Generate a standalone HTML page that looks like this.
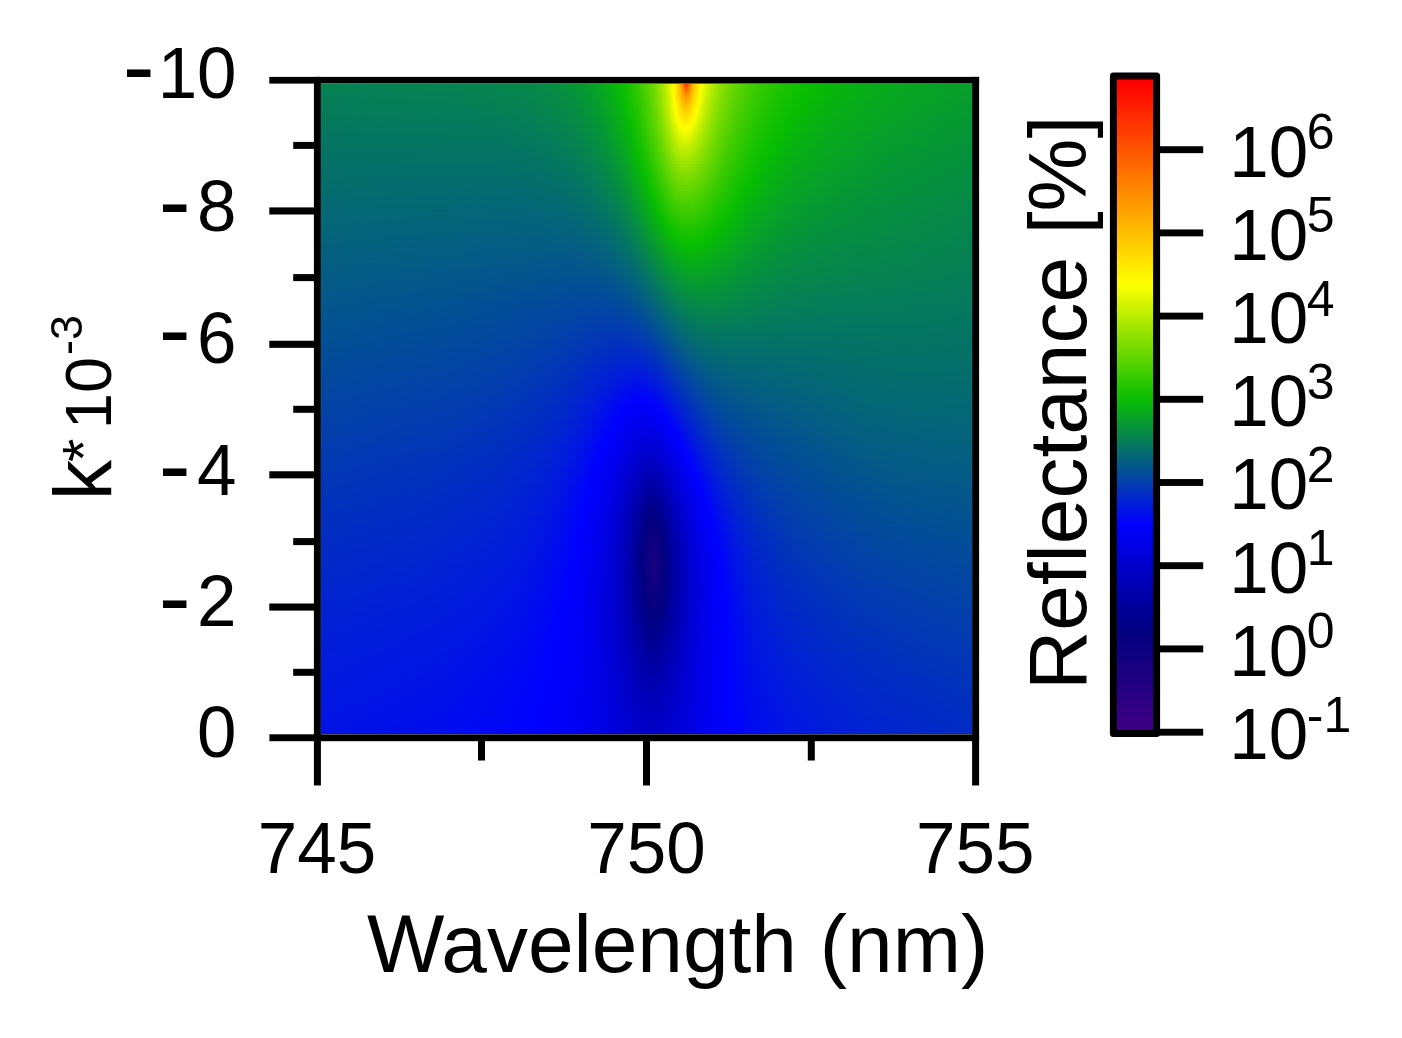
<!DOCTYPE html>
<html><head><meta charset="utf-8"><title>Reflectance map</title>
<style>
html,body{margin:0;padding:0;background:#fff}
body{width:1402px;height:1038px;position:relative;overflow:hidden;font-family:"Liberation Sans",sans-serif}
#hm{position:absolute;left:321px;top:83.5px;width:651px;height:650.5px;overflow:hidden}
#hm div{width:100%}
#cb{position:absolute;left:1113.4px;top:76.1px;width:43.2px;height:657.3px;background:linear-gradient(180deg,#ff0000 0.00%,#ff0500 1.67%,#ff1300 3.33%,#ff2100 5.00%,#ff2f00 6.67%,#ff3c00 8.33%,#ff4a00 10.00%,#ff5800 11.67%,#ff6600 13.33%,#ff7400 15.00%,#ff8200 16.67%,#ff9000 18.33%,#ff9e00 20.00%,#ffab00 21.67%,#ffb900 23.33%,#ffc700 25.00%,#ffd500 26.67%,#ffe300 28.33%,#fff100 30.00%,#ffff00 31.67%,#e8f900 33.33%,#d0f300 35.00%,#b9ed00 36.67%,#a1e600 38.33%,#8ae000 40.00%,#72da00 41.67%,#5bd400 43.33%,#43ce00 45.00%,#2bc700 46.67%,#14c100 48.33%,#08b60b 50.00%,#07a522 51.67%,#069438 53.33%,#06844e 55.00%,#057365 56.67%,#04627b 58.33%,#035291 60.00%,#0341a8 61.67%,#0230be 63.33%,#0120d5 65.00%,#010feb 66.67%,#0000fe 68.33%,#0000f1 70.00%,#0000e3 71.67%,#0000d6 73.33%,#0000c9 75.00%,#0000bc 76.67%,#0000af 78.33%,#0000a2 80.00%,#000095 81.67%,#000088 83.33%,#030080 85.00%,#0a0081 86.67%,#100081 88.33%,#170081 90.00%,#1e0082 91.67%,#250082 93.33%,#2c0083 95.00%,#330083 96.67%,#3a0084 98.33%,#400084 100.00%)}
svg{position:absolute;left:0;top:0}
text{font-family:"Liberation Sans",sans-serif;fill:#000}
</style></head><body>
<div id="hm">
<div style="height:2px;background:linear-gradient(90deg,#058152 0.0%,#058251 21.4%,#06864b 31.0%,#068f3f 36.7%,#069635 39.5%,#07a621 42.9%,#08b60a 45.2%,#08bd02 45.9%,#13c100 46.9%,#22c500 47.8%,#3acb00 49.0%,#5cd400 50.4%,#7ddd00 51.5%,#a1e600 52.4%,#c6f000 53.1%,#e1f700 53.6%,#f6fd00 53.9%,#fffe00 54.1%,#ffe100 54.6%,#ffd200 54.8%,#ffba00 55.1%,#ff9a00 55.5%,#ff9000 55.5%,#ff6c00 55.8%,#ff3f00 56.0%,#ff3400 56.1%,#ff3700 56.2%,#ff6100 56.5%,#ff8700 56.7%,#ffa200 56.9%,#ffb800 57.1%,#ffca00 57.4%,#ffe500 57.8%,#fff900 58.3%,#f2fc00 58.7%,#daf500 59.1%,#c0ee00 59.8%,#a1e600 60.7%,#82de00 61.9%,#70d900 62.8%,#57d300 64.4%,#41cd00 66.2%,#28c600 69.0%,#17c200 71.7%,#0dbf00 73.8%,#08bb04 76.2%,#07ae16 83.3%,#07a127 95.2%,#079e2b 100.0%)"></div>
<div style="height:2px;background:linear-gradient(90deg,#058053 0.0%,#058151 21.4%,#06844e 28.6%,#068848 33.3%,#06923c 38.1%,#079d2c 41.3%,#07ad17 44.1%,#08bc03 45.9%,#12c100 46.9%,#21c500 47.8%,#39cb00 49.0%,#5bd400 50.4%,#7cdd00 51.5%,#a0e600 52.4%,#c5f000 53.1%,#e0f700 53.6%,#fffe00 54.1%,#ffe200 54.6%,#ffc200 55.1%,#ffad00 55.3%,#ff9300 55.5%,#ff5200 56.0%,#ff4c00 56.1%,#ff4f00 56.2%,#ff6200 56.4%,#ff6e00 56.5%,#ff8d00 56.7%,#ffa700 56.9%,#ffc700 57.3%,#ffe300 57.8%,#fffa00 58.3%,#f0fb00 58.7%,#d8f500 59.1%,#beee00 59.8%,#a0e600 60.7%,#88e000 61.6%,#6ed900 62.8%,#56d200 64.4%,#40cd00 66.2%,#27c600 69.0%,#16c200 71.7%,#0dbf00 73.8%,#08bb04 76.2%,#07b111 81.0%,#07a521 90.5%,#079d2c 100.0%)"></div>
<div style="height:2px;background:linear-gradient(90deg,#058054 0.0%,#058152 21.4%,#06854c 31.0%,#068c44 35.7%,#069537 39.5%,#07a127 42.2%,#08b30f 45.0%,#08bb04 45.9%,#11c000 46.9%,#20c400 47.8%,#38cb00 49.0%,#5ad400 50.4%,#7bdc00 51.5%,#9fe600 52.4%,#c4f000 53.1%,#dff700 53.6%,#ffff00 54.1%,#ffe300 54.6%,#ffd400 54.8%,#ffc400 55.1%,#ffa000 55.5%,#ff6a00 55.9%,#ff6300 56.0%,#ff6000 56.1%,#ff6300 56.2%,#ff7100 56.4%,#ff9500 56.7%,#ffac00 56.9%,#ffca00 57.3%,#ffe500 57.8%,#fffc00 58.3%,#e5f800 58.8%,#d6f400 59.1%,#c2ef00 59.6%,#9ee600 60.7%,#7fdd00 61.9%,#62d600 63.4%,#49cf00 65.3%,#36ca00 67.1%,#20c400 69.9%,#0cbf00 73.8%,#08ba05 76.2%,#07ad17 83.3%,#07a028 95.2%,#079d2c 100.0%)"></div>
<div style="height:2px;background:linear-gradient(90deg,#057f54 0.0%,#058152 23.8%,#06854d 31.0%,#068b44 35.7%,#06923b 38.6%,#069833 40.5%,#07a521 43.2%,#08b40d 45.2%,#08ba05 45.9%,#10c000 46.9%,#1fc400 47.8%,#37ca00 49.0%,#59d300 50.4%,#7adc00 51.5%,#9ee500 52.4%,#c3ef00 53.1%,#def600 53.6%,#feff00 54.1%,#fff100 54.4%,#ffd600 54.8%,#ffc000 55.1%,#ff9d00 55.5%,#ff7700 55.9%,#ff7000 56.1%,#ff7300 56.2%,#ff8500 56.5%,#ffb100 56.9%,#ffcd00 57.3%,#ffe700 57.8%,#fffe00 58.3%,#d4f400 59.1%,#b0ea00 60.1%,#94e300 61.0%,#7edd00 61.9%,#6cd800 62.8%,#61d500 63.4%,#53d200 64.4%,#3dcc00 66.2%,#2dc800 68.0%,#1fc400 69.9%,#0bbf00 73.8%,#08ba06 76.2%,#07b013 81.0%,#07a423 90.5%,#079d2d 100.0%)"></div>
<div style="height:2px;background:linear-gradient(90deg,#057f55 0.0%,#058053 21.4%,#058350 28.6%,#06874a 33.3%,#068c43 36.7%,#069834 40.5%,#07a522 43.2%,#08b40e 45.2%,#08ba06 45.9%,#0fc000 46.9%,#1ec400 47.8%,#40cd00 49.5%,#65d700 50.8%,#84df00 51.8%,#9de500 52.4%,#caf100 53.3%,#fcfe00 54.1%,#fffd00 54.1%,#ffdd00 54.8%,#ffc200 55.1%,#ff8e00 55.8%,#ff8000 56.0%,#ff7f00 56.1%,#ff8100 56.2%,#ff9000 56.5%,#ffbc00 57.0%,#ffd500 57.4%,#fff000 57.9%,#feff00 58.3%,#e0f700 58.8%,#b9ed00 59.8%,#9be500 60.7%,#83de00 61.6%,#6ad800 62.8%,#52d200 64.4%,#3ccc00 66.2%,#2cc700 68.0%,#1ec400 69.9%,#0abf00 73.8%,#08b40e 78.6%,#07a620 88.1%,#079e2b 97.6%,#079c2d 100.0%)"></div>
<div style="height:2px;background:linear-gradient(90deg,#057f55 0.0%,#058054 21.4%,#06844e 31.0%,#068a46 35.7%,#06903d 38.6%,#079a30 41.3%,#07aa1b 44.1%,#08b907 45.9%,#0ec000 46.9%,#1dc400 47.8%,#3fcd00 49.5%,#64d600 50.8%,#83de00 51.8%,#a9e800 52.7%,#c9f100 53.3%,#effb00 53.9%,#fffe00 54.1%,#ffda00 54.8%,#ffba00 55.3%,#ff9700 55.8%,#ff8c00 56.0%,#ff8b00 56.1%,#ff8e00 56.2%,#ff9a00 56.5%,#ffc000 57.0%,#ffd800 57.4%,#fff900 58.1%,#fffe00 58.2%,#def600 58.8%,#b7ec00 59.8%,#99e400 60.7%,#82de00 61.6%,#69d800 62.8%,#51d100 64.4%,#3bcb00 66.2%,#2bc700 68.0%,#1dc400 69.9%,#09be00 73.8%,#07af14 81.0%,#07a324 90.5%,#079c2e 100.0%)"></div>
<div style="height:2px;background:linear-gradient(90deg,#057e56 0.0%,#058054 23.8%,#06834f 31.0%,#068947 35.7%,#06903e 38.6%,#069a31 41.3%,#07a91c 44.1%,#08b808 45.9%,#0dbf00 46.9%,#1cc300 47.8%,#34ca00 49.0%,#4cd000 50.0%,#63d600 50.8%,#82de00 51.8%,#9ae500 52.4%,#c7f000 53.3%,#edfa00 53.9%,#feff00 54.1%,#ffe900 54.6%,#ffc900 55.1%,#ffae00 55.5%,#ffa000 55.8%,#ff9700 56.0%,#ff9900 56.2%,#ffa300 56.5%,#ffcf00 57.1%,#ffee00 57.8%,#fffb00 58.1%,#fdfe00 58.2%,#dbf600 58.8%,#bbed00 59.6%,#aae900 60.1%,#8fe200 61.0%,#7adc00 61.9%,#68d700 62.8%,#5dd400 63.4%,#44ce00 65.3%,#31c900 67.1%,#1cc300 69.9%,#08be00 73.8%,#07af15 81.0%,#07a324 90.5%,#079c2e 100.0%)"></div>
<div style="height:2px;background:linear-gradient(90deg,#057e56 0.0%,#057f55 21.4%,#068350 31.0%,#068948 35.7%,#068f3f 38.6%,#069932 41.3%,#07a91d 44.1%,#08b709 45.9%,#0cbf00 46.9%,#1bc300 47.8%,#33c900 49.0%,#4acf00 50.0%,#62d600 50.8%,#81de00 51.8%,#99e400 52.4%,#c6f000 53.3%,#ebfa00 53.9%,#fcfe00 54.1%,#fffe00 54.2%,#ffd600 55.0%,#ffb400 55.5%,#ffa800 55.8%,#ffa100 56.0%,#ffa300 56.2%,#ffac00 56.5%,#ffdf00 57.4%,#fff700 57.9%,#fffd00 58.1%,#f9fe00 58.2%,#d9f500 58.8%,#b8ec00 59.6%,#9ae400 60.5%,#7fdd00 61.6%,#66d700 62.8%,#4fd100 64.4%,#39cb00 66.2%,#29c700 68.0%,#16c200 70.8%,#08be00 73.8%,#08b210 78.6%,#07a522 88.1%,#079b2f 100.0%)"></div>
<div style="height:2px;background:linear-gradient(90deg,#057d57 0.0%,#057f55 23.8%,#058250 31.0%,#068a46 36.7%,#06913c 39.5%,#079d2d 42.2%,#07af15 45.0%,#0bbf00 46.9%,#1ac300 47.8%,#32c900 49.0%,#53d200 50.4%,#75db00 51.5%,#91e200 52.2%,#a5e700 52.7%,#c4f000 53.3%,#e9f900 53.9%,#ffff00 54.2%,#ffd900 55.0%,#ffba00 55.5%,#ffab00 55.9%,#ffaa00 56.1%,#ffb000 56.4%,#ffe200 57.4%,#fff900 57.9%,#ffff00 58.1%,#f1fb00 58.3%,#d6f400 58.8%,#b6ec00 59.6%,#98e400 60.5%,#76db00 61.9%,#65d600 62.8%,#4dd000 64.4%,#2fc800 67.1%,#20c400 69.0%,#10c000 71.7%,#08bd01 73.8%,#08b70a 76.2%,#07aa1b 83.3%,#079c2d 97.6%,#079b2f 100.0%)"></div>
<div style="height:2px;background:linear-gradient(90deg,#057d57 0.0%,#057e56 21.4%,#058251 31.0%,#068947 36.7%,#06913d 39.5%,#079f29 42.9%,#07ae16 45.0%,#09be00 46.9%,#30c900 49.0%,#52d200 50.4%,#73da00 51.5%,#96e300 52.4%,#c2ef00 53.3%,#f1fb00 54.1%,#fcfe00 54.2%,#fffa00 54.4%,#ffcc00 55.3%,#ffc000 55.5%,#ffb700 55.8%,#ffb300 56.1%,#ffb400 56.2%,#ffbb00 56.5%,#fff000 57.6%,#fffc00 57.9%,#fbfe00 58.1%,#d3f300 58.8%,#afea00 59.8%,#96e300 60.5%,#75db00 61.9%,#63d600 62.8%,#4cd000 64.4%,#2ec800 67.1%,#1fc400 69.0%,#0fc000 71.7%,#08bc02 73.8%,#07ad17 81.0%,#07a226 90.5%,#079a30 100.0%)"></div>
<div style="height:2px;background:linear-gradient(90deg,#057d58 0.0%,#057e56 23.8%,#058152 31.0%,#068947 36.7%,#06903e 39.5%,#079b2e 42.2%,#07a620 44.1%,#08b50c 45.9%,#08be00 46.9%,#17c200 47.8%,#2fc800 49.0%,#51d100 50.4%,#72da00 51.5%,#95e300 52.4%,#b8ec00 53.1%,#eefb00 54.1%,#f9fd00 54.2%,#fffc00 54.4%,#ffc600 55.5%,#ffbe00 55.8%,#ffbb00 56.0%,#ffbc00 56.2%,#ffc200 56.5%,#ffdf00 57.1%,#fff900 57.8%,#fffe00 57.9%,#d0f300 58.8%,#ace900 59.8%,#88e000 61.0%,#6ad800 62.4%,#58d300 63.4%,#3fcd00 65.3%,#25c600 68.0%,#0ec000 71.7%,#08bd02 73.6%,#07b112 78.6%,#07a620 85.7%,#079c2e 97.6%,#069a30 100.0%)"></div>
<div style="height:2px;background:linear-gradient(90deg,#057c58 0.0%,#057d57 23.8%,#06834f 33.3%,#068848 36.7%,#068f3f 39.5%,#079e2b 42.9%,#07ac18 45.0%,#08bd01 46.9%,#16c200 47.8%,#38cb00 49.5%,#5dd400 50.8%,#7bdc00 51.8%,#93e300 52.4%,#beee00 53.3%,#e2f700 53.9%,#f6fd00 54.2%,#fffe00 54.4%,#ffcc00 55.5%,#ffc500 55.8%,#ffc200 56.1%,#ffc300 56.2%,#ffd100 56.7%,#fffe00 57.8%,#cdf200 58.8%,#aae900 59.8%,#8ee100 60.7%,#72da00 61.9%,#61d500 62.8%,#4acf00 64.4%,#34ca00 66.2%,#24c500 68.0%,#0dbf00 71.7%,#09be00 72.7%,#08b50c 76.2%,#07ac18 81.0%,#07a127 90.5%,#069a31 100.0%)"></div>
<div style="height:2px;background:linear-gradient(90deg,#057c59 0.0%,#057d58 21.4%,#058053 31.0%,#06864b 35.7%,#068c43 38.6%,#069636 41.3%,#079f2a 43.2%,#07ad16 45.2%,#08bd02 46.9%,#15c100 47.8%,#2dc800 49.0%,#4ed100 50.4%,#6fd900 51.5%,#92e200 52.4%,#bced00 53.3%,#e9f900 54.1%,#fdfe00 54.4%,#fff700 54.6%,#ffd900 55.3%,#ffcb00 55.8%,#ffc900 56.1%,#ffcd00 56.4%,#ffdc00 56.8%,#fffe00 57.8%,#d1f300 58.7%,#ade900 59.6%,#91e200 60.5%,#70d900 61.9%,#5fd500 62.8%,#48cf00 64.4%,#2fc800 66.7%,#23c500 68.0%,#0ec000 71.4%,#08be00 72.7%,#08b50d 76.2%,#07ac19 81.0%,#07a324 88.1%,#079d2d 95.2%,#069931 100.0%)"></div>
<div style="height:2px;background:linear-gradient(90deg,#057c59 0.0%,#057d58 23.8%,#058054 31.0%,#06874a 36.7%,#068e40 39.5%,#069537 41.3%,#079e2b 43.2%,#07ad17 45.2%,#08bc03 46.9%,#14c100 47.8%,#2cc700 49.0%,#43ce00 50.0%,#5ad400 50.8%,#78dc00 51.8%,#9de500 52.7%,#baed00 53.3%,#eafa00 54.1%,#f9fd00 54.4%,#fffc00 54.5%,#ffd900 55.5%,#ffd000 55.9%,#ffd000 56.1%,#ffd500 56.5%,#ffe300 56.9%,#fffc00 57.6%,#fcfe00 57.8%,#e0f700 58.3%,#bbed00 59.1%,#9ce500 60.1%,#78dc00 61.4%,#5ed500 62.8%,#47cf00 64.4%,#2ec800 66.7%,#22c500 68.0%,#0dbf00 71.4%,#08bd01 72.7%,#07af14 78.6%,#07a522 85.7%,#069932 100.0%)"></div>
<div style="height:2px;background:linear-gradient(90deg,#057b5a 0.0%,#057c59 21.4%,#057e56 28.6%,#058151 33.3%,#068848 37.6%,#06913d 40.5%,#079e2c 43.2%,#07aa1b 45.0%,#08bb04 46.9%,#13c100 47.8%,#2ac700 49.0%,#4cd000 50.4%,#6cd800 51.5%,#8ee100 52.4%,#b8ec00 53.3%,#e7f900 54.1%,#ffff00 54.5%,#ffe300 55.3%,#ffd700 55.8%,#ffd700 56.2%,#ffdb00 56.5%,#ffef00 57.1%,#ffff00 57.6%,#dcf600 58.3%,#b8ec00 59.1%,#9ae400 60.1%,#81de00 61.0%,#64d600 62.4%,#52d200 63.4%,#3bcb00 65.3%,#29c700 67.1%,#1ac300 69.0%,#0bbf00 71.7%,#08bd02 72.7%,#08b30e 76.2%,#07ab1a 81.0%,#07a226 88.1%,#069932 100.0%)"></div>
<div style="height:2px;background:linear-gradient(90deg,#057b5a 0.0%,#057c59 23.8%,#057f55 31.0%,#06844e 35.7%,#068d42 39.5%,#069833 42.2%,#07a325 44.1%,#07b111 45.9%,#08ba05 46.9%,#11c000 47.8%,#33c900 49.5%,#57d300 50.8%,#75db00 51.8%,#99e400 52.7%,#c5f000 53.6%,#f1fb00 54.4%,#ffff00 54.6%,#ffe700 55.3%,#ffdd00 55.8%,#ffdb00 56.0%,#ffe000 56.5%,#fff300 57.1%,#fffb00 57.4%,#fafe00 57.6%,#d8f500 58.3%,#c1ef00 58.8%,#a1e600 59.8%,#8be000 60.5%,#71da00 61.6%,#51d100 63.4%,#39cb00 65.3%,#27c600 67.1%,#0ec000 70.8%,#08bc02 72.7%,#08b30f 76.2%,#07aa1b 81.0%,#079f29 90.5%,#069833 100.0%)"></div>
<div style="height:2px;background:linear-gradient(90deg,#057a5b 0.0%,#057b5a 23.8%,#057e56 31.0%,#06834f 35.7%,#068c43 39.5%,#069734 42.2%,#07a226 44.1%,#07b012 45.9%,#08b906 46.9%,#10c000 47.8%,#28c600 49.0%,#49cf00 50.4%,#69d800 51.5%,#97e400 52.7%,#b3eb00 53.3%,#e4f800 54.2%,#fbfe00 54.6%,#fffc00 54.8%,#ffeb00 55.3%,#ffe200 55.8%,#ffe200 56.2%,#ffea00 56.7%,#fffe00 57.4%,#c4f000 58.7%,#9ee600 59.8%,#7ddd00 61.0%,#59d300 62.8%,#43ce00 64.4%,#2ac700 66.7%,#13c100 69.9%,#09be00 71.7%,#08b210 76.2%,#07a620 83.3%,#079b2f 95.2%,#069833 100.0%)"></div>
<div style="height:2px;background:linear-gradient(90deg,#057a5b 0.0%,#057b5a 26.2%,#058054 33.3%,#068849 38.1%,#068f3f 40.5%,#079b2f 43.2%,#07a91c 45.2%,#08b807 46.9%,#0cbf00 47.6%,#26c600 49.0%,#47cf00 50.4%,#67d700 51.5%,#95e300 52.7%,#b1ea00 53.3%,#f1fb00 54.5%,#feff00 54.8%,#ffeb00 55.5%,#ffe600 55.9%,#ffe900 56.4%,#fffb00 57.1%,#ffff00 57.3%,#d4f400 58.2%,#b0ea00 59.1%,#93e300 60.1%,#7bdc00 61.0%,#5dd400 62.5%,#4ed000 63.4%,#2dc800 66.2%,#17c200 69.0%,#08be00 71.7%,#08b809 73.8%,#07ad17 78.6%,#07a127 88.1%,#069734 100.0%)"></div>
<div style="height:2px;background:linear-gradient(90deg,#057a5c 0.0%,#057a5b 23.8%,#057d57 31.0%,#06844e 36.7%,#068e41 40.4%,#069932 42.9%,#07a71f 45.0%,#08b809 46.9%,#0bbf00 47.6%,#2fc800 49.5%,#53d200 50.8%,#70d900 51.8%,#93e300 52.7%,#bdee00 53.6%,#fdfe00 54.8%,#fff800 55.1%,#ffef00 55.5%,#ffeb00 56.0%,#ffef00 56.5%,#fffe00 57.1%,#ebfa00 57.6%,#cdf200 58.3%,#ade900 59.1%,#91e200 60.1%,#79dc00 61.0%,#5bd400 62.5%,#40cd00 64.4%,#28c600 66.7%,#16c200 69.0%,#08be00 71.4%,#08b709 73.8%,#07ad17 78.6%,#07a521 83.3%,#069a30 95.2%,#069734 100.0%)"></div>
<div style="height:2px;background:linear-gradient(90deg,#05795c 0.0%,#057a5b 26.2%,#057f55 33.3%,#06864b 38.1%,#06913d 41.3%,#069a31 43.2%,#07a620 45.0%,#08b70a 46.9%,#0abe00 47.6%,#1dc400 48.7%,#3bcb00 50.0%,#51d100 50.8%,#6ed900 51.8%,#91e200 52.7%,#abe900 53.3%,#f7fd00 54.8%,#feff00 55.0%,#fff400 55.5%,#fff000 56.0%,#fff400 56.5%,#fffe00 57.0%,#f0fb00 57.4%,#baed00 58.7%,#97e400 59.8%,#77db00 61.0%,#5cd400 62.4%,#4bd000 63.4%,#34ca00 65.3%,#1cc300 68.0%,#10c000 69.9%,#08be00 71.4%,#08b60a 73.8%,#07ac18 78.6%,#07a522 83.3%,#069a31 95.2%,#069735 100.0%)"></div>
<div style="height:2px;background:linear-gradient(90deg,#05795d 0.0%,#05795c 23.8%,#057c59 31.0%,#058152 35.7%,#068947 39.5%,#069438 42.2%,#079f2a 44.1%,#07ad17 45.9%,#08be00 47.6%,#2cc800 49.5%,#50d100 50.8%,#62d600 51.5%,#8fe100 52.7%,#b7ec00 53.6%,#fcfe00 55.1%,#ffff00 55.1%,#fff800 55.5%,#fff500 56.1%,#fff800 56.5%,#ffff00 56.8%,#d5f400 57.9%,#b7ec00 58.7%,#99e400 59.6%,#75db00 61.0%,#53d200 62.8%,#33c900 65.3%,#1bc300 68.0%,#0fc000 69.9%,#08bd01 71.4%,#08b60b 73.8%,#07ab19 78.6%,#079f29 88.1%,#069833 97.6%,#069635 100.0%)"></div>
<div style="height:2px;background:linear-gradient(90deg,#05785d 0.0%,#05795d 23.8%,#057d57 33.3%,#06844e 37.6%,#068f3f 41.3%,#069833 43.2%,#07a620 45.2%,#08bd01 47.6%,#21c500 49.0%,#38cb00 50.0%,#4ed000 50.8%,#7bdc00 52.2%,#9fe600 53.1%,#f3fc00 55.0%,#fdff00 55.3%,#fffc00 55.5%,#fffa00 56.1%,#fffd00 56.5%,#fdff00 56.7%,#eefa00 57.1%,#c2ef00 58.3%,#a4e700 59.1%,#8ae000 60.1%,#7adc00 60.7%,#56d300 62.5%,#3ccc00 64.4%,#21c400 67.1%,#13c100 69.0%,#09be00 70.8%,#08b50c 73.8%,#07ab1a 78.6%,#079f2a 88.1%,#069636 100.0%)"></div>
<div style="height:2px;background:linear-gradient(90deg,#05785e 0.0%,#05795d 26.2%,#057d57 33.3%,#06844d 38.1%,#068f40 41.3%,#069734 43.2%,#07a521 45.2%,#08be00 47.8%,#29c700 49.5%,#4cd000 50.8%,#7edd00 52.4%,#a3e700 53.3%,#edfa00 55.0%,#fbfe00 55.5%,#ffff00 55.8%,#ffff00 56.2%,#fcfe00 56.5%,#edfa00 57.0%,#abe900 58.8%,#87df00 60.1%,#71da00 61.0%,#57d300 62.4%,#3bcb00 64.4%,#27c600 66.2%,#12c100 69.0%,#08be00 70.8%,#08b50d 73.8%,#07aa1a 78.6%,#079f2a 88.1%,#069734 97.6%,#069636 100.0%)"></div>
<div style="height:2px;background:linear-gradient(90deg,#05785e 0.0%,#05785e 23.8%,#057a5b 31.0%,#058152 36.7%,#068749 39.5%,#068e41 41.3%,#069735 43.2%,#07a422 45.2%,#08b30f 46.9%,#08bd01 47.8%,#1ec400 49.0%,#35ca00 50.0%,#4bd000 50.8%,#67d700 51.8%,#88e000 52.7%,#adea00 53.6%,#e2f700 54.8%,#f1fb00 55.3%,#f9fd00 55.8%,#f9fe00 56.1%,#f5fc00 56.5%,#e7f900 57.0%,#caf100 57.8%,#9fe600 59.1%,#85df00 60.1%,#6fd900 61.0%,#5dd400 61.9%,#45ce00 63.4%,#2fc800 65.3%,#17c200 68.0%,#08bd01 70.8%,#08b40e 73.8%,#07aa1b 78.6%,#079e2b 88.1%,#069537 100.0%)"></div>
<div style="height:2px;background:linear-gradient(90deg,#05775f 0.0%,#05785e 26.2%,#057c59 33.3%,#06844e 38.6%,#068d42 41.3%,#069636 43.2%,#07a226 45.0%,#08b210 46.9%,#08bc02 47.8%,#16c200 48.7%,#33c900 50.0%,#5bd400 51.5%,#7adc00 52.4%,#aae900 53.6%,#d4f400 54.6%,#e6f800 55.1%,#effb00 55.5%,#f3fc00 56.0%,#eaf900 56.7%,#cef200 57.6%,#a5e700 58.8%,#8ae000 59.8%,#6dd900 61.0%,#51d100 62.5%,#38cb00 64.4%,#1dc400 67.1%,#0bbf00 69.9%,#08ba05 71.4%,#08b30e 73.8%,#07a91c 78.6%,#07a028 85.7%,#069833 95.2%,#069537 100.0%)"></div>
<div style="height:2px;background:linear-gradient(90deg,#05775f 0.0%,#05775f 26.2%,#057b5a 33.3%,#058250 38.1%,#068c43 41.3%,#069537 43.2%,#07a325 45.2%,#07b111 46.9%,#08bb03 47.8%,#15c100 48.7%,#28c700 49.6%,#47cf00 50.8%,#72da00 52.2%,#9ae500 53.3%,#cff200 54.6%,#e0f700 55.1%,#e9f900 55.5%,#ecfa00 56.1%,#e8f900 56.5%,#dcf600 57.0%,#a2e600 58.8%,#80de00 60.1%,#62d600 61.4%,#4bd000 62.8%,#37ca00 64.4%,#1cc300 67.1%,#0abe00 69.9%,#08b907 71.7%,#07ad17 76.2%,#07a225 83.3%,#069834 95.2%,#069538 100.0%)"></div>
<div style="height:2px;background:linear-gradient(90deg,#057760 0.0%,#05775f 26.2%,#05795d 31.0%,#057d57 35.7%,#06854c 39.5%,#068c44 41.3%,#069438 43.2%,#07a226 45.2%,#07b012 46.9%,#08ba05 47.8%,#14c100 48.7%,#27c600 49.6%,#3dcc00 50.5%,#61d500 51.8%,#80de00 52.7%,#caf100 54.6%,#dbf500 55.1%,#e5f800 55.8%,#e3f800 56.4%,#d2f300 57.1%,#9ee600 58.8%,#7edd00 60.1%,#60d500 61.4%,#49cf00 62.8%,#35ca00 64.4%,#23c500 66.2%,#0ec000 69.0%,#09be00 69.9%,#07b210 73.8%,#07a81d 78.6%,#079d2d 88.1%,#069438 100.0%)"></div>
<div style="height:2px;background:linear-gradient(90deg,#057660 0.0%,#057760 26.2%,#057a5b 33.3%,#058250 38.6%,#068b45 41.3%,#069339 43.2%,#07a127 45.2%,#07af14 46.9%,#08b906 47.8%,#12c100 48.7%,#2ec800 50.0%,#55d200 51.5%,#7edd00 52.7%,#c5f000 54.6%,#d5f400 55.1%,#dcf600 55.5%,#dff700 56.1%,#d7f500 56.7%,#cdf200 57.1%,#86df00 59.6%,#5ed500 61.4%,#48cf00 62.8%,#34ca00 64.4%,#1dc400 66.7%,#0cbf00 69.0%,#08be00 69.9%,#08b50d 72.7%,#07ac18 76.2%,#07a127 83.3%,#069537 97.6%,#069439 100.0%)"></div>
<div style="height:2px;background:linear-gradient(90deg,#057661 0.0%,#057661 26.2%,#057a5c 33.3%,#057e56 36.7%,#06844e 39.5%,#068a46 41.3%,#069833 44.1%,#07a621 45.9%,#07ae15 46.9%,#08b807 47.8%,#11c000 48.7%,#24c500 49.6%,#42cd00 50.8%,#5dd400 51.8%,#7bdc00 52.7%,#beee00 54.5%,#cef200 55.1%,#d6f400 55.5%,#d9f500 56.1%,#cff200 56.8%,#b5eb00 57.8%,#90e200 59.1%,#79dc00 60.1%,#5cd400 61.4%,#46ce00 62.8%,#32c900 64.4%,#18c200 67.1%,#0bbf00 69.0%,#08bd01 69.9%,#08b40e 72.7%,#07ab19 76.2%,#07a423 81.0%,#079c2e 88.1%,#069439 100.0%)"></div>
<div style="height:2px;background:linear-gradient(90deg,#057562 0.0%,#057661 26.2%,#05795d 33.3%,#058152 38.6%,#068947 41.3%,#069734 44.1%,#07a522 45.9%,#07ad16 46.9%,#08b709 47.8%,#0fc000 48.7%,#34ca00 50.4%,#51d100 51.5%,#79dc00 52.7%,#b4eb00 54.4%,#c2ef00 54.8%,#cdf200 55.3%,#d3f300 56.0%,#d0f300 56.5%,#c3ef00 57.1%,#7ddd00 59.8%,#5ad400 61.4%,#44ce00 62.8%,#27c600 65.3%,#17c200 67.1%,#0abf00 69.0%,#08bc02 69.9%,#08b60b 71.7%,#07ab1a 76.2%,#07a028 83.3%,#069538 97.6%,#069339 100.0%)"></div>
<div style="height:2px;background:linear-gradient(90deg,#057562 0.0%,#057562 26.2%,#057760 31.0%,#057b5a 35.7%,#058350 39.5%,#068948 41.3%,#06913c 43.2%,#079e2b 45.2%,#07ac18 46.9%,#08b60a 47.8%,#0ebf00 48.7%,#29c700 50.0%,#4fd100 51.5%,#8be100 53.3%,#b5eb00 54.5%,#c5f000 55.1%,#cbf100 55.5%,#cdf200 56.1%,#c7f000 56.7%,#b8ec00 57.4%,#7bdc00 59.8%,#61d500 61.0%,#47cf00 62.5%,#2fc800 64.4%,#16c200 67.1%,#09be00 69.0%,#07b013 73.6%,#07a620 78.6%,#079d2c 85.7%,#069636 95.2%,#06933a 100.0%)"></div>
<div style="height:2px;background:linear-gradient(90deg,#057563 0.0%,#057562 28.6%,#057a5b 35.7%,#058251 39.5%,#068c44 42.2%,#069536 44.1%,#079d2c 45.2%,#07ab19 46.9%,#08b50c 47.8%,#0cbf00 48.7%,#1fc400 49.6%,#3ccc00 50.8%,#69d800 52.4%,#ace900 54.4%,#beee00 55.1%,#c7f000 55.8%,#c5f000 56.4%,#b9ec00 57.1%,#78dc00 59.8%,#54d200 61.6%,#41cd00 62.8%,#2ec800 64.4%,#18c200 66.7%,#08be00 69.0%,#07b210 72.7%,#07a621 78.6%,#079d2c 85.7%,#069439 97.6%,#06923a 100.0%)"></div>
<div style="height:2px;background:linear-gradient(90deg,#057463 0.0%,#057463 26.2%,#05775f 33.3%,#057f55 38.6%,#06874a 41.3%,#068f3f 43.2%,#079d2d 45.2%,#07ab1a 46.9%,#0abf00 48.7%,#2fc800 50.4%,#4bd000 51.5%,#85df00 53.3%,#ace900 54.5%,#bdee00 55.3%,#c2ef00 55.9%,#bfee00 56.5%,#b4eb00 57.1%,#6fd900 60.1%,#5dd400 61.0%,#3fcd00 62.8%,#2dc800 64.4%,#1bc300 66.2%,#0dbf00 68.0%,#08bd01 69.0%,#07b111 72.7%,#07a91c 76.2%,#079f2a 83.3%,#069735 92.9%,#06923b 100.0%)"></div>
<div style="height:2px;background:linear-gradient(90deg,#057464 0.0%,#057463 28.6%,#057760 33.3%,#057e56 38.6%,#06864b 41.3%,#069439 44.1%,#07a127 45.9%,#07b211 47.6%,#09be00 48.7%,#24c500 50.0%,#38cb00 50.8%,#6ed900 52.7%,#9fe600 54.2%,#b4eb00 55.1%,#bced00 55.8%,#baed00 56.5%,#afea00 57.1%,#78db00 59.5%,#60d500 60.7%,#42cd00 62.5%,#2bc700 64.4%,#13c100 67.1%,#0cbf00 68.0%,#08bd02 69.0%,#07b112 72.7%,#07a91d 76.2%,#07a127 81.0%,#069636 92.9%,#06923b 100.0%)"></div>
<div style="height:3px;background:linear-gradient(90deg,#057364 0.0%,#057464 28.6%,#057661 33.3%,#057d57 38.6%,#06854c 41.3%,#068d41 43.2%,#079a30 45.2%,#07a81d 46.9%,#08bd01 48.7%,#20c400 49.9%,#42cd00 51.3%,#61d500 52.4%,#9ee500 54.4%,#afea00 55.1%,#b4eb00 55.5%,#b4eb00 56.4%,#ace900 57.0%,#96e300 58.1%,#69d800 60.1%,#50d100 61.4%,#34ca00 63.4%,#20c400 65.3%,#11c000 67.1%,#0bbf00 68.0%,#08bc03 69.0%,#07b013 72.7%,#07a81e 76.2%,#079b2e 85.7%,#069438 95.2%,#06913c 100.0%)"></div>
<div style="height:3px;background:linear-gradient(90deg,#057365 0.0%,#057365 28.6%,#057562 33.3%,#057b5b 37.6%,#058151 40.5%,#068849 42.2%,#069734 45.0%,#07a71f 46.9%,#07b012 47.8%,#08bc03 48.7%,#0abf00 49.0%,#2bc700 50.5%,#4bd000 51.8%,#98e400 54.4%,#a5e700 55.0%,#ace900 55.5%,#aeea00 56.1%,#a9e800 56.7%,#9ae400 57.6%,#6cd800 59.8%,#4dd000 61.4%,#31c900 63.4%,#16c200 66.2%,#09be00 68.0%,#07b111 71.7%,#07a71f 76.2%,#079b2f 85.7%,#069339 95.2%,#06913d 100.0%)"></div>
<div style="height:3px;background:linear-gradient(90deg,#057266 0.0%,#057266 28.6%,#057463 33.3%,#057a5b 38.1%,#06834f 41.3%,#068b44 43.2%,#069636 45.0%,#07a521 46.9%,#07af14 47.8%,#08be00 49.0%,#25c600 50.4%,#59d300 52.4%,#92e200 54.4%,#a0e600 55.1%,#a5e700 55.5%,#a5e700 56.4%,#98e400 57.4%,#7edd00 58.7%,#59d300 60.5%,#36ca00 62.8%,#1cc300 65.3%,#0dbf00 67.1%,#08bd01 68.0%,#07b111 71.4%,#07ab19 73.8%,#07a225 78.6%,#069833 88.1%,#06903d 100.0%)"></div>
<div style="height:3px;background:linear-gradient(90deg,#057267 0.0%,#057167 28.6%,#057661 35.7%,#057c58 39.5%,#06854c 42.2%,#069538 45.0%,#07ad17 47.8%,#08bc03 49.0%,#11c000 49.6%,#3ccc00 51.5%,#88e000 54.2%,#97e400 55.0%,#9fe600 55.8%,#9de500 56.5%,#8ee100 57.6%,#53d200 60.7%,#38cb00 62.5%,#23c500 64.4%,#0fc000 66.7%,#08bc02 68.0%,#07af14 71.7%,#07a521 76.2%,#069931 85.7%,#06923b 95.2%,#06903e 100.0%)"></div>
<div style="height:3px;background:linear-gradient(90deg,#057167 0.0%,#057069 23.8%,#057167 31.0%,#05785f 37.6%,#057e56 40.5%,#068848 43.2%,#069a30 45.9%,#07ab19 47.8%,#08ba05 49.0%,#0bbf00 49.5%,#35ca00 51.3%,#7bdc00 53.9%,#8de100 54.8%,#96e300 55.5%,#98e400 56.1%,#92e200 56.9%,#84df00 57.8%,#5ad400 60.1%,#37ca00 62.4%,#20c400 64.4%,#0dbf00 66.7%,#0abe00 67.1%,#08b709 69.0%,#07ac18 72.7%,#07a422 76.2%,#069932 85.7%,#068f3f 100.0%)"></div>
<div style="height:3px;background:linear-gradient(90deg,#057068 0.0%,#056f6a 23.8%,#057266 33.3%,#05785e 38.6%,#058054 41.3%,#06874a 43.2%,#069339 45.2%,#07a028 46.9%,#08b808 49.0%,#09be00 49.5%,#27c600 50.8%,#49cf00 52.2%,#79dc00 54.1%,#8ae000 55.0%,#91e200 55.8%,#90e200 56.4%,#86df00 57.4%,#48cf00 61.0%,#32c900 62.5%,#1ec400 64.4%,#0bbf00 66.7%,#08be00 67.1%,#08b30f 69.9%,#07a81d 73.8%,#079d2c 81.0%,#069438 90.5%,#068f3f 100.0%)"></div>
<div style="height:3px;background:linear-gradient(90deg,#057069 0.0%,#056f6a 26.2%,#057167 33.3%,#057463 36.7%,#057c59 40.5%,#06844d 42.9%,#06903d 45.0%,#079f2a 46.9%,#07a81d 47.8%,#08b60a 49.0%,#09be00 49.6%,#2ec800 51.3%,#70d900 53.9%,#7edd00 54.6%,#87df00 55.3%,#8ae000 56.1%,#86df00 56.8%,#78db00 57.9%,#49cf00 60.7%,#25c600 63.4%,#09be00 66.7%,#07b210 69.9%,#07a71f 73.8%,#079f2a 78.6%,#069439 90.5%,#068e40 100.0%)"></div>
<div style="height:3px;background:linear-gradient(90deg,#056f6a 0.0%,#056f6a 31.0%,#057266 35.7%,#05785e 39.5%,#06834f 42.9%,#068f3f 45.0%,#079d2c 46.9%,#07b112 48.7%,#08bd02 49.6%,#0ec000 50.0%,#36ca00 51.8%,#6ed900 54.1%,#7bdc00 54.8%,#82de00 55.5%,#84df00 56.1%,#7ddd00 57.1%,#6cd800 58.3%,#41cd00 61.0%,#2ac700 62.8%,#1ac300 64.4%,#0abf00 66.2%,#08bb04 67.1%,#07b112 69.9%,#07a620 73.8%,#079e2b 78.6%,#069537 88.1%,#068e41 100.0%)"></div>
<div style="height:3px;background:linear-gradient(90deg,#056f6a 0.0%,#056d6c 26.2%,#056f6a 33.3%,#057562 38.6%,#057c59 41.3%,#068849 44.1%,#069438 45.9%,#07a522 47.8%,#09be00 49.9%,#32c900 51.8%,#5ed500 53.6%,#71da00 54.5%,#7adc00 55.3%,#7ddd00 56.0%,#79dc00 56.9%,#67d700 58.3%,#3ecc00 61.0%,#27c600 62.8%,#17c200 64.4%,#09be00 66.2%,#08b210 69.0%,#07a81e 72.7%,#079d2c 78.6%,#069438 88.1%,#068d42 100.0%)"></div>
<div style="height:3px;background:linear-gradient(90deg,#056e6b 0.0%,#056d6d 28.6%,#056e6b 33.3%,#057463 38.6%,#057b5a 41.3%,#058251 43.2%,#068d41 45.2%,#07a127 47.6%,#08b70a 49.5%,#08be00 50.0%,#27c600 51.5%,#59d300 53.6%,#6bd800 54.5%,#74da00 55.3%,#77db00 56.0%,#73da00 56.9%,#68d700 57.9%,#3bcb00 61.0%,#24c500 62.8%,#0dbf00 65.3%,#08bd01 66.2%,#07ae15 69.9%,#07a422 73.8%,#079d2d 78.6%,#069439 88.1%,#068d42 100.0%)"></div>
<div style="height:3px;background:linear-gradient(90deg,#056e6c 0.0%,#056c6e 28.6%,#056f6a 35.7%,#057562 39.5%,#057d58 42.2%,#068a45 45.0%,#069833 46.9%,#07ab19 48.7%,#08bc03 50.0%,#10c000 50.5%,#40cd00 52.7%,#5bd400 53.9%,#6bd800 55.0%,#71da00 55.9%,#6ed900 56.8%,#61d500 58.1%,#38cb00 61.0%,#1bc300 63.4%,#0bbf00 65.3%,#08b906 66.7%,#07ad17 69.9%,#07a324 73.8%,#079c2e 78.6%,#06933a 88.1%,#068c43 100.0%)"></div>
<div style="height:3px;background:linear-gradient(90deg,#056d6d 0.0%,#056b6f 28.6%,#056f6a 36.7%,#057661 40.5%,#057f54 43.2%,#068f3f 45.9%,#079f29 47.8%,#08b50d 49.6%,#09be00 50.4%,#4fd100 53.6%,#61d500 54.6%,#69d800 55.5%,#6bd800 56.2%,#66d700 57.1%,#59d300 58.3%,#34ca00 61.0%,#19c200 63.4%,#09be00 65.3%,#07af14 69.0%,#07a522 72.7%,#079b2f 78.6%,#068f3f 92.9%,#068c44 100.0%)"></div>
<div style="height:3px;background:linear-gradient(90deg,#056c6e 0.0%,#046b70 28.6%,#056e6b 36.7%,#057562 40.5%,#057e56 43.2%,#068947 45.2%,#069537 46.9%,#079d2c 47.8%,#07b112 49.5%,#09be00 50.5%,#4bd000 53.6%,#5ed500 54.8%,#64d600 55.5%,#64d600 56.5%,#62d600 57.0%,#54d200 58.3%,#26c600 61.9%,#0ec000 64.4%,#08bd01 65.3%,#07ae16 69.0%,#07a226 73.6%,#069a30 78.6%,#06923b 88.1%,#068b44 100.0%)"></div>
<div style="height:3px;background:linear-gradient(90deg,#056c6e 0.0%,#046a71 31.0%,#056d6c 36.7%,#057464 40.5%,#057d58 43.2%,#068749 45.2%,#069339 46.9%,#07a521 48.7%,#08bd02 50.5%,#0cbf00 50.8%,#46ce00 53.6%,#56d200 54.6%,#5ed500 55.5%,#5ed500 56.7%,#54d200 57.9%,#1ec400 62.4%,#0cbf00 64.4%,#08bc03 65.3%,#07b013 68.0%,#07a522 71.7%,#079d2d 76.2%,#069734 81.0%,#06903e 90.5%,#068b45 100.0%)"></div>
<div style="height:3px;background:linear-gradient(90deg,#056b6f 0.0%,#046972 31.0%,#056c6d 36.7%,#057365 40.5%,#057b5a 43.2%,#068a45 45.9%,#069a31 47.8%,#07ae15 49.6%,#09be00 50.8%,#41cd00 53.6%,#50d100 54.6%,#58d300 55.5%,#5ad300 56.2%,#55d200 57.3%,#41cd00 59.1%,#20c400 61.9%,#0abf00 64.3%,#07b210 67.1%,#07a620 70.8%,#07a029 73.8%,#069635 81.0%,#068f3f 90.5%,#068a46 100.0%)"></div>
<div style="height:3px;background:linear-gradient(90deg,#046b70 0.0%,#046873 28.6%,#046b70 35.7%,#056f6a 39.5%,#05795d 42.9%,#06834f 45.0%,#06903e 46.9%,#07a522 49.0%,#08b808 50.5%,#08bc02 50.8%,#18c200 51.8%,#3ccc00 53.6%,#4bd000 54.6%,#53d200 55.5%,#53d200 56.7%,#4cd000 57.8%,#21c500 61.6%,#0fc000 63.4%,#08be01 64.4%,#07b112 67.1%,#07a81e 69.9%,#079f2a 73.8%,#069536 81.0%,#068d42 92.9%,#068a46 100.0%)"></div>
<div style="height:3px;background:linear-gradient(90deg,#046a71 0.0%,#046874 31.0%,#046a71 35.7%,#056e6b 39.5%,#057562 42.2%,#057d58 44.1%,#06874a 45.9%,#069636 47.8%,#07aa1b 49.6%,#08ba06 50.8%,#0bbf00 51.3%,#37ca00 53.6%,#46ce00 54.6%,#4dd000 55.5%,#4fd100 56.2%,#4bd000 57.1%,#42cd00 58.3%,#16c200 62.4%,#08bc02 64.3%,#07af14 67.1%,#07a423 70.8%,#079e2b 73.8%,#069537 81.0%,#068b44 95.2%,#068947 100.0%)"></div>
<div style="height:3px;background:linear-gradient(90deg,#046971 0.0%,#046775 31.0%,#056b6f 38.1%,#056f6a 40.5%,#057661 42.9%,#058152 45.2%,#068c43 46.9%,#07a127 49.0%,#07b111 50.4%,#08bd01 51.3%,#2dc800 53.3%,#3ecc00 54.4%,#46ce00 55.3%,#49cf00 56.0%,#47cf00 57.0%,#40cd00 58.1%,#12c100 62.5%,#0abf00 63.4%,#07b211 66.2%,#07a521 69.9%,#079d2d 73.8%,#069438 81.0%,#068b45 95.2%,#068948 100.0%)"></div>
<div style="height:3px;background:linear-gradient(90deg,#046972 0.0%,#046676 31.0%,#046973 36.7%,#056c6e 39.5%,#057069 41.3%,#057661 43.2%,#058054 45.2%,#068b45 46.9%,#06923b 47.8%,#07aa1b 50.0%,#08bd01 51.5%,#15c100 52.2%,#2ec800 53.6%,#3ecc00 54.8%,#44ce00 56.1%,#41cd00 57.3%,#31c900 59.1%,#0fc000 62.5%,#08be00 63.4%,#08b40d 65.3%,#07aa1c 68.0%,#07a028 71.4%,#069833 76.2%,#06903e 85.7%,#068848 100.0%)"></div>
<div style="height:3px;background:linear-gradient(90deg,#046873 0.0%,#046577 31.0%,#046873 37.6%,#056f6b 41.3%,#05785e 44.1%,#058250 45.9%,#06903d 47.8%,#07a81e 50.0%,#09be00 51.8%,#29c700 53.6%,#38cb00 54.8%,#3fcc00 56.0%,#3ccc00 57.3%,#30c900 58.8%,#0ec000 62.4%,#0abf00 62.8%,#08b709 64.4%,#07ab19 67.1%,#079f2a 71.7%,#069734 76.2%,#068f3f 85.7%,#068849 100.0%)"></div>
<div style="height:3px;background:linear-gradient(90deg,#046874 0.0%,#046578 31.0%,#046873 38.6%,#056d6c 41.3%,#057760 44.1%,#057c58 45.2%,#06874a 46.9%,#079a30 49.0%,#08b60b 51.3%,#08bc03 51.8%,#10c000 52.4%,#29c700 53.9%,#35ca00 55.0%,#3acb00 56.2%,#37ca00 57.4%,#29c700 59.1%,#0abf00 62.5%,#08be01 62.8%,#07b111 65.3%,#07a71f 68.0%,#079c2e 72.7%,#069438 78.6%,#068d42 88.1%,#06874a 100.0%)"></div>
<div style="height:3px;background:linear-gradient(90deg,#046775 0.0%,#046479 33.3%,#046775 38.1%,#056c6e 41.3%,#057562 44.1%,#057f55 45.9%,#068d42 47.8%,#079f2a 49.6%,#09be00 52.2%,#20c400 53.6%,#2ec800 54.8%,#34ca00 55.8%,#34c900 57.0%,#29c700 58.7%,#09be00 62.4%,#07b013 65.3%,#07a621 68.0%,#079b2f 72.7%,#06933a 78.6%,#068a46 92.9%,#06874a 100.0%)"></div>
<div style="height:3px;background:linear-gradient(90deg,#046775 0.0%,#04637a 33.3%,#046676 38.6%,#046b70 41.3%,#057464 44.1%,#057d57 45.9%,#068b45 47.8%,#079d2d 49.6%,#08be00 52.4%,#1bc300 53.6%,#29c700 54.8%,#2fc800 55.8%,#2fc800 57.0%,#28c600 58.3%,#0abe00 61.9%,#08ba05 62.8%,#07ae15 65.3%,#07a226 69.0%,#069833 73.6%,#06923b 78.6%,#06874a 97.6%,#06864b 100.0%)"></div>
<div style="height:3px;background:linear-gradient(90deg,#046676 0.0%,#04627b 33.3%,#046676 39.5%,#056e6c 42.9%,#05785f 45.2%,#057b59 45.9%,#068947 47.8%,#079e2b 49.9%,#09be00 52.7%,#1fc400 54.2%,#29c700 55.5%,#2bc700 56.5%,#27c600 57.8%,#11c000 60.7%,#09be00 61.6%,#07b112 64.4%,#07a324 68.0%,#069932 72.7%,#06923c 78.6%,#068947 92.9%,#06864c 100.0%)"></div>
<div style="height:3px;background:linear-gradient(90deg,#046577 0.0%,#04617c 31.0%,#04637a 37.6%,#046873 41.3%,#057168 44.1%,#057a5c 45.9%,#06874a 47.8%,#079c2d 50.0%,#08bb03 52.7%,#0ec000 53.3%,#1ec400 54.6%,#24c500 55.5%,#26c600 56.5%,#24c500 57.6%,#0ebf00 60.7%,#08bd02 61.6%,#07af14 64.4%,#07a226 68.0%,#069931 71.7%,#06933a 76.2%,#068947 90.5%,#06854c 100.0%)"></div>
<div style="height:3px;background:linear-gradient(90deg,#046578 0.0%,#04617d 33.3%,#04637a 38.6%,#046972 42.2%,#056f6a 44.1%,#05785e 45.9%,#06854d 47.8%,#079e2b 50.4%,#08bd01 53.1%,#17c200 54.4%,#20c400 55.5%,#22c500 56.7%,#1cc300 58.3%,#08be00 61.0%,#07ad16 64.4%,#07a324 67.1%,#069932 71.4%,#06923b 76.2%,#068947 90.5%,#06854d 100.0%)"></div>
<div style="height:3px;background:linear-gradient(90deg,#046478 0.0%,#04607e 31.0%,#04617d 36.7%,#046478 40.5%,#046a71 42.9%,#057365 45.2%,#057c59 46.9%,#06923b 49.5%,#08bc03 53.3%,#09be00 53.6%,#14c100 54.5%,#1cc300 55.8%,#1cc300 57.4%,#14c100 58.8%,#08bd01 60.7%,#07a81d 65.3%,#079f29 68.0%,#069734 71.7%,#068f3f 78.6%,#06864b 95.2%,#06844d 100.0%)"></div>
<div style="height:3px;background:linear-gradient(90deg,#046479 0.0%,#045f80 33.3%,#04627c 39.5%,#046972 43.2%,#057563 45.9%,#058152 47.8%,#069537 50.0%,#08b907 53.3%,#09be00 53.9%,#16c200 55.5%,#19c200 56.7%,#14c100 58.3%,#08be00 60.1%,#07aa1b 64.4%,#079e2b 68.0%,#069635 71.7%,#068e40 78.6%,#06854d 97.6%,#06844e 100.0%)"></div>
<div style="height:3px;background:linear-gradient(90deg,#04637a 0.0%,#045f7f 23.8%,#045e81 33.3%,#04607e 38.6%,#04637a 41.3%,#046b70 44.1%,#057365 45.9%,#057f55 47.8%,#06923b 49.9%,#08b60b 53.3%,#08be00 54.2%,#11c000 55.5%,#14c100 56.7%,#10c000 58.3%,#08bd01 59.8%,#07a91d 64.4%,#079d2c 68.0%,#069439 72.7%,#068c43 81.0%,#06834f 100.0%)"></div>
<div style="height:3px;background:linear-gradient(90deg,#04637b 0.0%,#045f80 23.8%,#045d82 33.3%,#045f80 38.6%,#046577 42.9%,#056e6c 45.2%,#057660 46.9%,#06874a 49.0%,#079e2b 51.3%,#08b60b 53.6%,#09be00 54.8%,#0fc000 56.1%,#0fc000 57.4%,#08be01 59.1%,#07a71f 64.4%,#079c2e 68.0%,#069438 71.7%,#068f3f 76.2%,#068849 88.1%,#06834f 100.0%)"></div>
<div style="height:3px;background:linear-gradient(90deg,#04627b 0.0%,#045c83 33.3%,#045e81 38.6%,#04627b 42.2%,#056c6e 45.2%,#057563 46.9%,#06854d 49.0%,#07a521 52.2%,#08b50c 53.9%,#08bd02 55.1%,#0abf00 55.9%,#0abe00 57.8%,#08bd02 58.7%,#07a521 64.4%,#069a30 68.0%,#06913d 73.6%,#068b45 81.0%,#058250 100.0%)"></div>
<div style="height:3px;background:linear-gradient(90deg,#04617c 0.0%,#045e81 21.4%,#045c84 36.7%,#045f7f 41.3%,#046676 44.1%,#056e6c 45.9%,#05795d 47.8%,#068848 49.6%,#07b210 53.9%,#08bb04 55.5%,#08bd01 56.9%,#08ba05 58.7%,#07a423 64.4%,#069932 68.0%,#06903e 73.6%,#068a46 81.0%,#058251 100.0%)"></div>
<div style="height:3px;background:linear-gradient(90deg,#04617d 0.0%,#045c84 28.6%,#045c84 38.6%,#045e81 41.3%,#046478 44.1%,#046973 45.2%,#057760 47.8%,#06864b 49.6%,#07af14 53.9%,#08b808 55.5%,#08ba05 56.9%,#08b907 58.2%,#07ad17 61.4%,#079c2d 66.2%,#069438 69.9%,#068f40 73.8%,#068947 81.0%,#058151 100.0%)"></div>
<div style="height:3px;background:linear-gradient(90deg,#04607e 0.0%,#045c84 23.8%,#045a86 36.7%,#045c84 40.5%,#04607e 43.2%,#046a71 45.9%,#057562 47.8%,#06864b 49.9%,#07a71f 53.3%,#07b112 54.6%,#08b60b 55.8%,#08b709 57.3%,#08b40d 58.8%,#07a128 64.4%,#069735 68.0%,#068f3f 72.7%,#068848 81.0%,#058152 100.0%)"></div>
<div style="height:3px;background:linear-gradient(90deg,#04607f 0.0%,#045d83 19.0%,#045988 35.7%,#045a86 39.5%,#045f80 43.2%,#046873 45.9%,#057365 47.8%,#058152 49.6%,#07a423 53.3%,#07af14 54.8%,#08b40d 56.5%,#08b30e 58.2%,#07ab1a 61.0%,#079c2d 65.3%,#069339 69.0%,#068d42 73.8%,#068947 78.6%,#058053 100.0%)"></div>
<div style="height:3px;background:linear-gradient(90deg,#045f7f 0.0%,#045987 28.6%,#045889 38.1%,#045a86 41.3%,#04607f 44.1%,#046676 45.9%,#057168 47.8%,#058151 49.9%,#07a127 53.3%,#07ab19 54.8%,#07b012 56.0%,#07b211 57.4%,#07af14 58.8%,#07a71f 61.4%,#069833 66.2%,#068e40 71.4%,#068a46 76.2%,#06854c 85.7%,#058053 100.0%)"></div>
<div style="height:3px;background:linear-gradient(90deg,#045f80 0.0%,#045988 28.6%,#04578a 38.6%,#045a86 42.2%,#04627c 45.2%,#056e6c 47.6%,#057c58 49.6%,#07a128 53.6%,#07a81d 54.8%,#07ad16 56.0%,#07af14 57.4%,#07aa1a 59.8%,#079c2e 64.4%,#06933a 68.0%,#068b45 73.6%,#06854c 83.3%,#058054 100.0%)"></div>
<div style="height:3px;background:linear-gradient(90deg,#045e81 0.0%,#045988 26.2%,#04568c 37.6%,#045988 42.2%,#04607e 45.2%,#056b6f 47.6%,#057d57 50.0%,#079e2b 53.6%,#07a71f 55.1%,#07ab19 56.5%,#07ab19 58.3%,#07a620 60.5%,#069a30 64.4%,#06903e 69.0%,#068a46 73.8%,#06864c 81.0%,#057f54 100.0%)"></div>
<div style="height:3px;background:linear-gradient(90deg,#045d82 0.0%,#045a86 19.0%,#04558d 38.6%,#045889 42.2%,#045b85 44.1%,#04617d 45.9%,#046a70 47.8%,#057b5a 50.0%,#079d2c 53.9%,#07a71f 55.8%,#07a91c 57.3%,#07a81e 58.8%,#07a127 61.6%,#069635 65.3%,#06903d 68.0%,#068a46 72.7%,#06854d 81.0%,#057f55 100.0%)"></div>
<div style="height:3px;background:linear-gradient(90deg,#045d82 0.0%,#04578a 26.2%,#04548e 39.5%,#04578a 42.9%,#045d83 45.2%,#046873 47.8%,#05785e 49.9%,#069a30 53.9%,#07a423 55.8%,#07a620 57.1%,#07a620 58.3%,#07a127 60.7%,#06913d 67.1%,#068a46 71.7%,#06854c 78.6%,#057e56 100.0%)"></div>
<div style="height:3px;background:linear-gradient(90deg,#045c83 0.0%,#04578a 23.8%,#035390 38.6%,#04558d 42.2%,#045b85 45.2%,#046676 47.8%,#057661 50.0%,#069734 53.9%,#079e2a 55.1%,#07a325 56.5%,#07a423 57.8%,#07a127 60.1%,#06903d 66.7%,#068947 71.4%,#06834f 81.0%,#057e56 100.0%)"></div>
<div style="height:3px;background:linear-gradient(90deg,#045c84 0.0%,#04578b 23.8%,#035291 38.6%,#04538f 42.2%,#045987 45.2%,#046479 47.8%,#057364 50.0%,#06923b 53.6%,#079c2d 55.3%,#07a028 56.5%,#07a028 59.1%,#068f3f 66.7%,#06874a 72.7%,#068350 81.0%,#057d57 100.0%)"></div>
<div style="height:3px;background:linear-gradient(90deg,#045b85 0.0%,#04578a 19.0%,#035192 38.6%,#035291 42.2%,#04578a 45.2%,#04627c 47.8%,#057068 49.9%,#068f3f 53.6%,#069a30 55.5%,#079e2b 57.0%,#079e2b 59.1%,#068d42 67.1%,#06864b 72.7%,#058251 81.0%,#057d58 100.0%)"></div>
<div style="height:3px;background:linear-gradient(90deg,#045b85 0.0%,#04548e 26.2%,#035094 40.5%,#035291 43.2%,#04568c 45.2%,#045f80 47.6%,#056c6f 49.6%,#068c43 53.6%,#069537 55.0%,#079b2f 56.7%,#079c2d 58.3%,#069833 61.0%,#068a46 68.0%,#06844e 73.8%,#057d57 95.2%,#057c58 100.0%)"></div>
<div style="height:3px;background:linear-gradient(90deg,#045a86 0.0%,#04558c 21.4%,#034f96 39.5%,#035093 43.2%,#04538f 45.0%,#045987 46.9%,#046578 49.0%,#057365 50.8%,#068947 53.6%,#06923b 55.0%,#069734 56.2%,#069a31 57.9%,#069833 60.1%,#068a46 67.1%,#06834f 73.8%,#058054 85.7%,#057c59 100.0%)"></div>
<div style="height:3px;background:linear-gradient(90deg,#045987 0.0%,#04548e 23.8%,#034d97 39.5%,#034f95 43.2%,#035291 45.2%,#045b85 47.6%,#046775 49.6%,#06874a 53.6%,#06913d 55.3%,#069636 56.7%,#069734 58.8%,#06933a 61.9%,#068947 67.1%,#06844e 71.4%,#058053 78.6%,#057d57 92.9%,#057b59 100.0%)"></div>
<div style="height:3px;background:linear-gradient(90deg,#045988 0.0%,#04548e 21.4%,#034c99 41.3%,#035094 45.0%,#04558c 46.9%,#04607e 49.0%,#057562 51.8%,#068749 54.1%,#06903e 55.8%,#069438 57.4%,#069438 59.8%,#06854c 69.0%,#058151 73.8%,#057f55 83.3%,#057b5a 100.0%)"></div>
<div style="height:3px;background:linear-gradient(90deg,#045889 0.0%,#04548e 19.0%,#034e96 33.3%,#034b9a 40.5%,#034c99 43.2%,#035093 45.9%,#04578a 47.8%,#046578 50.0%,#06834f 53.9%,#068c43 55.5%,#06913d 56.9%,#06923b 58.3%,#06913c 60.5%,#06844e 69.0%,#057f54 76.2%,#057b5a 97.6%,#057a5b 100.0%)"></div>
<div style="height:3px;background:linear-gradient(90deg,#045889 0.0%,#035192 26.2%,#034a9c 40.5%,#034b9a 44.1%,#034e96 45.9%,#04558d 47.8%,#045f7f 49.6%,#058053 53.9%,#068947 55.5%,#068f3f 57.4%,#068f3f 60.7%,#06844e 68.0%,#057f54 73.8%,#057b5a 95.2%,#057a5b 100.0%)"></div>
<div style="height:3px;background:linear-gradient(90deg,#04578a 0.0%,#035291 21.4%,#034a9b 36.7%,#03499e 42.2%,#034b9a 45.2%,#035291 47.6%,#045d82 49.6%,#057168 52.2%,#058251 54.6%,#068946 56.2%,#068d42 57.8%,#068d42 60.7%,#058251 69.0%,#057e56 76.2%,#057a5c 100.0%)"></div>
<div style="height:3px;background:linear-gradient(90deg,#04578b 0.0%,#035390 16.7%,#034e96 28.6%,#03479f 40.5%,#03499d 45.2%,#035193 47.8%,#045c83 49.9%,#057c58 54.1%,#06854c 55.8%,#068a45 57.6%,#068b44 59.5%,#068a46 61.6%,#058151 68.0%,#057e56 73.8%,#057c58 83.3%,#05795d 100.0%)"></div>
<div style="height:3px;background:linear-gradient(90deg,#04568c 0.0%,#035291 19.0%,#03499d 35.7%,#0346a1 42.2%,#0346a1 44.1%,#034b9a 46.9%,#035390 48.7%,#04607e 50.8%,#057a5b 54.2%,#06854d 56.4%,#068848 57.9%,#068848 61.6%,#057f54 69.0%,#057d58 73.8%,#057a5b 92.9%,#05795d 100.0%)"></div>
<div style="height:3px;background:linear-gradient(90deg,#04558c 0.0%,#035192 19.0%,#034a9c 33.3%,#0344a3 42.2%,#0346a2 45.0%,#03499d 46.9%,#035093 48.7%,#045a86 50.4%,#057562 53.9%,#057f55 55.5%,#06854d 57.3%,#06874a 58.8%,#06864b 61.9%,#057f54 68.0%,#057c59 73.8%,#057a5b 90.5%,#05785e 100.0%)"></div>
<div style="height:3px;background:linear-gradient(90deg,#04558d 0.0%,#035094 21.4%,#0344a4 40.5%,#0344a4 45.2%,#0347a0 46.9%,#034f94 49.0%,#045b85 50.8%,#057660 54.5%,#057f55 56.2%,#06834f 57.6%,#06854c 60.1%,#058151 64.4%,#057b5a 72.7%,#057a5c 90.5%,#05785e 100.0%)"></div>
<div style="height:3px;background:linear-gradient(90deg,#04548e 0.0%,#034f95 21.4%,#0345a3 38.1%,#0341a7 43.2%,#0343a5 45.9%,#03489f 47.8%,#035291 49.9%,#057463 54.6%,#057d57 56.5%,#058251 58.2%,#06834f 61.0%,#057b5a 70.8%,#05795c 78.6%,#05795d 90.5%,#05775f 100.0%)"></div>
<div style="height:3px;background:linear-gradient(90deg,#04548f 0.0%,#035094 16.7%,#034b9b 28.6%,#0340a9 43.2%,#0340a8 45.2%,#0346a2 47.8%,#034e96 49.6%,#045d83 51.8%,#057167 54.6%,#057b5a 56.5%,#058053 58.7%,#058053 62.8%,#057a5b 70.8%,#05795d 76.2%,#05785e 92.9%,#057760 100.0%)"></div>
<div style="height:3px;background:linear-gradient(90deg,#04538f 0.0%,#034d98 23.8%,#0343a5 37.6%,#033fab 43.2%,#033faa 45.9%,#0343a5 47.8%,#034d98 49.9%,#04617d 52.7%,#057069 54.8%,#05795c 56.8%,#057e56 58.7%,#057f54 60.7%,#05795d 71.4%,#05785e 90.5%,#057660 100.0%)"></div>
<div style="height:3px;background:linear-gradient(90deg,#035390 0.0%,#034e96 19.0%,#0346a1 33.3%,#033dad 43.2%,#033dad 45.9%,#0341a8 47.8%,#034b9a 50.0%,#045e81 52.7%,#056e6b 55.0%,#05775f 56.8%,#057c58 59.1%,#057c58 63.4%,#05785e 69.9%,#05775f 92.9%,#057661 100.0%)"></div>
<div style="height:3px;background:linear-gradient(90deg,#035291 0.0%,#034d97 19.0%,#0347a0 31.0%,#033faa 39.5%,#023bb0 44.1%,#033baf 45.9%,#033fab 47.8%,#03489f 49.9%,#045b85 52.7%,#046a70 54.8%,#057463 56.7%,#05795c 58.7%,#057b5a 60.7%,#057a5b 64.4%,#057760 71.7%,#057660 92.9%,#057562 100.0%)"></div>
<div style="height:3px;background:linear-gradient(90deg,#035192 0.0%,#034d98 19.0%,#0346a1 31.0%,#033dad 40.5%,#0239b2 44.1%,#023ab2 45.9%,#033cae 47.8%,#0345a2 49.9%,#04568c 52.4%,#046972 55.0%,#057463 57.4%,#05795d 59.8%,#05795d 64.4%,#057661 71.7%,#057660 83.3%,#057661 92.9%,#057562 100.0%)"></div>
<div style="height:3px;background:linear-gradient(90deg,#035192 0.0%,#034b9a 21.4%,#0344a4 33.3%,#0237b5 45.0%,#023ab1 47.8%,#0341a8 49.6%,#034f96 51.8%,#046676 55.0%,#056f6a 56.7%,#057562 58.7%,#05775f 60.7%,#05775f 64.4%,#057463 73.8%,#057661 90.5%,#057463 100.0%)"></div>
<div style="height:3px;background:linear-gradient(90deg,#035093 0.0%,#034b9a 19.0%,#0347a0 28.6%,#033faa 36.7%,#0236b6 44.1%,#0236b6 46.9%,#033caf 49.0%,#0345a2 50.8%,#046478 55.1%,#056f6a 57.3%,#057463 59.5%,#057661 61.9%,#057464 73.8%,#057561 88.1%,#057463 100.0%)"></div>
<div style="height:3px;background:linear-gradient(90deg,#035094 0.0%,#034c99 16.7%,#0346a1 28.6%,#033dae 38.1%,#0235b8 44.1%,#0234ba 45.9%,#0236b7 47.8%,#033caf 49.6%,#0347a0 51.5%,#04627c 55.1%,#046b70 56.8%,#057167 58.8%,#057463 61.6%,#057365 76.2%,#057562 90.5%,#057364 100.0%)"></div>
<div style="height:3px;background:linear-gradient(90deg,#034f95 0.0%,#034a9b 19.0%,#0345a2 28.6%,#023bb0 38.6%,#0232bc 45.2%,#0233bb 47.6%,#0238b3 49.5%,#0344a4 51.5%,#045e80 55.1%,#046873 56.8%,#056f6a 58.8%,#057266 61.4%,#057266 69.9%,#057266 76.2%,#057463 90.5%,#057365 100.0%)"></div>
<div style="height:3px;background:linear-gradient(90deg,#034f95 0.0%,#03499e 21.4%,#0343a6 31.0%,#023ab1 38.6%,#0230be 45.0%,#0231be 47.6%,#0236b7 49.5%,#0341a8 51.5%,#045d82 55.3%,#046874 57.3%,#056e6b 59.6%,#057167 62.5%,#057167 76.2%,#057464 85.7%,#057265 100.0%)"></div>
<div style="height:3px;background:linear-gradient(90deg,#034e96 0.0%,#03489e 21.4%,#0340aa 33.3%,#0239b3 38.6%,#022ec1 45.2%,#022ec1 47.8%,#0235b8 49.9%,#0340a9 51.8%,#045888 55.0%,#046578 57.1%,#056c6e 59.5%,#056f6a 61.9%,#057167 78.6%,#057364 88.1%,#057266 100.0%)"></div>
<div style="height:3px;background:linear-gradient(90deg,#034d97 0.0%,#03499d 16.7%,#0343a5 28.6%,#023bb0 36.7%,#022cc4 45.9%,#022cc4 47.8%,#0232bc 49.9%,#033dad 51.8%,#04568b 55.1%,#04617d 56.9%,#046775 58.3%,#056c6d 61.0%,#056e6b 64.4%,#057069 76.2%,#057365 88.1%,#057167 100.0%)"></div>
<div style="height:3px;background:linear-gradient(90deg,#034d98 0.0%,#03499c 14.3%,#0344a4 26.2%,#023bb0 35.7%,#0230be 42.2%,#022ac7 45.9%,#022ac7 47.8%,#022ec1 49.6%,#0237b5 51.3%,#04578b 55.5%,#04607e 57.1%,#046873 59.6%,#056c6e 62.5%,#057069 78.6%,#057266 88.1%,#057167 100.0%)"></div>
<div style="height:3px;background:linear-gradient(90deg,#034c99 0.0%,#03489e 16.7%,#0340aa 31.0%,#0236b7 38.6%,#0229c8 45.2%,#0227ca 47.8%,#022bc5 49.6%,#0234b9 51.3%,#04568c 55.8%,#04607e 57.8%,#046676 59.6%,#046a70 62.4%,#056c6e 69.0%,#057167 88.1%,#057168 100.0%)"></div>
<div style="height:3px;background:linear-gradient(90deg,#034c99 0.0%,#0345a2 21.4%,#0341a8 28.6%,#0238b4 36.7%,#022cc4 42.9%,#0226cc 45.9%,#0225cd 47.8%,#0229c9 49.6%,#0231bd 51.3%,#035192 55.5%,#045d82 57.6%,#046577 60.1%,#046972 62.8%,#057168 88.1%,#057069 100.0%)"></div>
<div style="height:3px;background:linear-gradient(90deg,#034b9a 0.0%,#0345a3 21.4%,#0340a9 28.6%,#0239b3 35.7%,#022ec1 41.3%,#0224cf 45.9%,#0122d1 47.8%,#0225cd 49.5%,#022ec1 51.3%,#035093 55.8%,#045c84 57.8%,#04637a 60.1%,#046774 62.5%,#046a71 69.0%,#057068 88.1%,#057069 100.0%)"></div>
<div style="height:3px;background:linear-gradient(90deg,#034b9b 0.0%,#0344a4 21.4%,#0340aa 28.6%,#0236b6 36.7%,#0228c9 43.2%,#0122d2 45.9%,#0120d4 47.8%,#0123d0 49.6%,#022bc5 51.3%,#034f95 55.9%,#045b85 58.1%,#04637a 60.7%,#046775 64.4%,#057069 88.1%,#056f6a 100.0%)"></div>
<div style="height:3px;background:linear-gradient(90deg,#034a9c 0.0%,#0346a0 14.3%,#0341a8 26.2%,#023ab1 33.3%,#0232bc 38.6%,#011ed6 46.9%,#011fd6 49.0%,#0123d0 50.4%,#022bc5 51.8%,#03499d 55.5%,#04578a 57.8%,#045f80 59.8%,#046478 62.8%,#046873 69.9%,#056f6a 88.1%,#056f6b 100.0%)"></div>
<div style="height:3px;background:linear-gradient(90deg,#034a9c 0.0%,#0343a5 21.4%,#033cae 31.0%,#0234b9 36.7%,#022ac6 41.3%,#011ed7 45.9%,#011bdb 47.8%,#011dd8 49.6%,#0226cc 51.5%,#03489e 55.8%,#035390 57.4%,#045c83 59.6%,#04627b 62.4%,#046676 67.1%,#056e6b 85.7%,#056e6b 100.0%)"></div>
<div style="height:3px;background:linear-gradient(90deg,#03499d 0.0%,#0342a6 21.4%,#033eac 28.6%,#0234ba 36.7%,#022bc5 40.5%,#011cda 45.9%,#0119de 47.8%,#0119de 49.0%,#011dd8 50.4%,#0225cd 51.8%,#023bb0 54.4%,#034c99 56.7%,#04578a 58.8%,#045e81 61.0%,#04637a 64.4%,#056d6c 85.7%,#056e6c 100.0%)"></div>
<div style="height:3px;background:linear-gradient(90deg,#03489e 0.0%,#0343a5 19.0%,#023bb0 31.0%,#022fc0 38.6%,#0123cf 42.9%,#0117e0 46.9%,#0116e1 49.0%,#0118de 50.0%,#0120d4 51.5%,#022fc1 53.3%,#0344a3 55.9%,#035094 57.8%,#045a87 60.1%,#045f7f 62.5%,#046577 69.9%,#056d6c 88.1%,#056d6d 100.0%)"></div>
<div style="height:3px;background:linear-gradient(90deg,#03489f 0.0%,#0344a4 14.3%,#0340a9 23.8%,#0237b5 33.3%,#022ec1 38.6%,#0121d3 43.2%,#0115e3 46.9%,#0113e6 48.7%,#0115e2 50.0%,#011fd6 51.8%,#0343a5 56.1%,#034f95 58.1%,#045889 60.1%,#045e81 62.8%,#04637a 68.0%,#056d6d 88.1%,#056c6d 100.0%)"></div>
<div style="height:3px;background:linear-gradient(90deg,#03479f 0.0%,#0342a7 19.0%,#033caf 28.6%,#0231bd 36.7%,#0123d0 42.2%,#0113e6 46.9%,#0110e9 49.0%,#0114e4 50.5%,#011fd5 52.2%,#033eac 55.8%,#034c99 57.9%,#04568c 60.1%,#045c83 62.8%,#04617d 66.7%,#046a70 83.3%,#056c6e 92.9%,#056c6e 100.0%)"></div>
<div style="height:3px;background:linear-gradient(90deg,#0347a0 0.0%,#0340a9 21.4%,#0239b3 31.0%,#022dc2 38.1%,#011fd5 42.9%,#0111e9 46.9%,#010ded 48.7%,#0111e9 50.4%,#0118de 51.8%,#0233ba 54.8%,#0344a4 56.9%,#034f95 58.8%,#045888 61.6%,#045e81 65.3%,#046479 72.7%,#046b70 85.7%,#056b6f 100.0%)"></div>
<div style="height:3px;background:linear-gradient(90deg,#0346a1 0.0%,#0341a7 16.7%,#033cae 26.2%,#0235b8 33.3%,#0229c8 39.5%,#0119dd 44.1%,#010cef 47.6%,#000af1 49.0%,#010ded 50.4%,#0115e3 51.8%,#033cae 56.2%,#03489e 58.1%,#035291 60.1%,#045987 62.8%,#045f80 67.1%,#046972 83.3%,#056b6f 90.5%,#056b6f 100.0%)"></div>
<div style="height:3px;background:linear-gradient(90deg,#0346a2 0.0%,#033fab 21.4%,#0237b5 31.0%,#022cc3 37.6%,#0122d1 41.3%,#0009f3 47.8%,#0007f5 49.0%,#000af2 50.4%,#0112e7 51.8%,#0226cc 54.1%,#0238b4 56.0%,#0346a1 58.1%,#035094 60.1%,#045889 62.8%,#045e80 68.0%,#046775 81.0%,#046971 85.7%,#046a70 100.0%)"></div>
<div style="height:3px;background:linear-gradient(90deg,#0345a2 0.0%,#033faa 19.0%,#0239b3 28.6%,#022fbf 35.7%,#0224cf 40.5%,#0116e2 44.1%,#0006f6 47.8%,#0004f9 49.0%,#0006f8 50.0%,#000bf0 51.3%,#011cda 53.3%,#0235b7 56.1%,#0342a6 57.8%,#035094 60.5%,#04568b 62.8%,#045d82 68.0%,#046972 85.7%,#046a71 100.0%)"></div>
<div style="height:3px;background:linear-gradient(90deg,#0345a3 0.0%,#033fab 19.0%,#0236b7 31.0%,#022dc3 36.7%,#0123d0 40.4%,#0114e4 44.1%,#0004fa 47.8%,#0001fd 49.0%,#0004fa 50.5%,#0110ea 52.4%,#0234b9 56.2%,#0342a7 58.1%,#034c99 60.1%,#04558d 62.8%,#045d82 69.0%,#046873 85.7%,#046972 100.0%)"></div>
<div style="height:3px;background:linear-gradient(90deg,#0344a4 0.0%,#033dad 21.4%,#0238b4 28.6%,#022ec1 35.7%,#0225ce 39.5%,#011bdb 42.2%,#0001fe 47.8%,#0001fe 50.5%,#0005f8 51.5%,#0115e2 53.3%,#022fc0 55.9%,#033faa 58.1%,#034a9c 60.1%,#035291 62.4%,#045889 65.3%,#04627c 76.2%,#046874 85.7%,#046972 100.0%)"></div>
<div style="height:3px;background:linear-gradient(90deg,#0343a4 0.0%,#033fab 16.7%,#0237b5 28.6%,#0231bd 33.3%,#0229c8 37.6%,#011dd8 41.3%,#0111e8 44.1%,#0002fc 46.9%,#0000fe 47.8%,#0000fb 49.6%,#0001fe 51.3%,#010cef 52.7%,#0233bb 56.7%,#033fab 58.3%,#03489e 60.1%,#035193 62.5%,#04568b 65.3%,#045d82 71.7%,#046478 81.0%,#046873 90.5%,#046873 100.0%)"></div>
<div style="height:3px;background:linear-gradient(90deg,#0343a5 0.0%,#033dad 19.0%,#0236b6 28.6%,#0230be 33.3%,#0228c9 37.6%,#011cd9 41.3%,#000af1 45.0%,#0000ff 46.9%,#0000f8 49.5%,#0000fd 51.3%,#0001fe 51.8%,#0009f4 52.7%,#022cc4 56.2%,#023bb0 58.1%,#0346a1 60.1%,#034f95 62.4%,#045889 67.1%,#046479 81.0%,#046774 90.5%,#046874 100.0%)"></div>
<div style="height:3px;background:linear-gradient(90deg,#0342a6 0.0%,#033dad 16.7%,#0238b4 26.2%,#0230bf 33.3%,#0225ce 38.6%,#011bdb 41.3%,#010eed 44.1%,#0003fb 45.9%,#0000fd 46.9%,#0000f6 49.0%,#0000f8 50.8%,#0001fe 52.2%,#0229c7 56.2%,#0237b6 57.8%,#0343a6 59.8%,#034c9a 61.9%,#035291 64.4%,#045988 69.0%,#046478 83.3%,#046775 90.5%,#046775 100.0%)"></div>
<div style="height:3px;background:linear-gradient(90deg,#0342a7 0.0%,#033caf 19.0%,#0232bb 31.0%,#022bc6 35.7%,#0124cf 38.6%,#011adc 41.3%,#010cef 44.1%,#0001fe 45.9%,#0000f4 49.0%,#0000f4 50.5%,#0000fe 52.4%,#0002fd 52.7%,#0225cd 56.1%,#0234b9 57.8%,#0342a6 60.1%,#034c99 62.5%,#04558d 66.7%,#045e80 76.2%,#046578 85.7%,#046676 90.5%,#046775 100.0%)"></div>
<div style="height:3px;background:linear-gradient(90deg,#0341a7 0.0%,#023ab1 21.4%,#0232bc 31.0%,#0228ca 36.7%,#0120d4 39.5%,#0110ea 43.2%,#0003fb 45.2%,#0000fe 45.9%,#0000f1 49.0%,#0000f1 50.5%,#0000fb 52.4%,#0000fd 52.7%,#0005f9 53.3%,#0121d3 55.9%,#0230be 57.6%,#033fab 59.8%,#03489e 61.9%,#035192 65.3%,#045988 70.8%,#04637a 83.3%,#046577 90.5%,#046676 100.0%)"></div>
<div style="height:3px;background:linear-gradient(90deg,#0341a8 0.0%,#033caf 16.7%,#0236b7 26.2%,#0231bd 31.0%,#0227cb 36.7%,#011bdb 40.5%,#010eec 43.2%,#0001fd 45.2%,#0000fc 45.9%,#0000ef 48.7%,#0000ef 50.5%,#0000f4 51.8%,#0000ff 53.1%,#000bf1 54.1%,#0121d2 56.2%,#0230be 57.9%,#033eab 60.1%,#034a9c 62.8%,#035390 67.1%,#045987 72.7%,#046479 85.7%,#046677 100.0%)"></div>
<div style="height:3px;background:linear-gradient(90deg,#0340a9 0.0%,#023ab1 19.0%,#0233ba 28.6%,#022dc3 33.3%,#0122d1 38.1%,#0116e1 41.3%,#0007f5 44.1%,#0001fe 45.0%,#0000fb 45.9%,#0000f1 47.8%,#0000eb 49.6%,#0000ec 50.5%,#0000f1 51.8%,#0000fd 53.3%,#0001fd 53.6%,#011fd6 56.2%,#022ec1 57.9%,#033cae 60.1%,#0347a0 62.4%,#034e96 65.3%,#04568c 69.9%,#04627c 83.3%,#046478 92.9%,#046578 100.0%)"></div>
<div style="height:3px;background:linear-gradient(90deg,#0340aa 0.0%,#0239b2 19.0%,#0235b8 26.2%,#022cc4 33.3%,#0123d0 37.6%,#0119de 40.5%,#000bf0 43.2%,#0000fe 45.0%,#0000ea 48.7%,#0000e8 50.4%,#0000ee 51.8%,#0000fd 53.6%,#0001fd 53.9%,#0119de 55.9%,#022bc5 57.8%,#0239b3 59.8%,#0345a2 62.4%,#034d97 65.3%,#04568c 70.8%,#04617d 83.3%,#046479 92.9%,#046478 100.0%)"></div>
<div style="height:3px;background:linear-gradient(90deg,#033faa 0.0%,#0239b3 19.0%,#0232bc 28.6%,#022cc5 33.3%,#0121d3 38.1%,#0114e4 41.3%,#000af2 43.2%,#0004fa 44.1%,#0000fd 45.0%,#0000ec 47.8%,#0000e5 49.9%,#0000e9 51.5%,#0000f6 53.1%,#0000ff 54.1%,#011cda 56.5%,#022cc3 58.3%,#0237b6 59.8%,#0342a7 61.9%,#034c99 65.3%,#04558d 70.8%,#04607e 83.3%,#04637a 90.5%,#046479 100.0%)"></div>
<div style="height:3px;background:linear-gradient(90deg,#033fab 0.0%,#0239b2 16.7%,#0233ba 26.2%,#022bc6 33.3%,#0224cf 36.7%,#011bdb 39.5%,#010eec 42.2%,#0002fc 44.1%,#0000fa 45.2%,#0000e4 49.0%,#0000e2 50.4%,#0000e8 51.8%,#0000f8 53.6%,#0000fe 54.4%,#0115e3 56.1%,#0228c9 58.1%,#0235b8 59.8%,#0342a7 62.4%,#034b9b 65.3%,#04548f 70.8%,#045e81 81.0%,#04627b 90.5%,#04637a 100.0%)"></div>
<div style="height:3px;background:linear-gradient(90deg,#033eac 0.0%,#0238b4 19.0%,#0231be 28.6%,#022ac6 33.3%,#0120d4 37.6%,#0116e2 40.5%,#0009f3 42.9%,#0001fe 44.1%,#0000f9 45.2%,#0000e1 49.0%,#0000df 50.4%,#0000e5 51.8%,#0000f8 53.9%,#0000ff 54.6%,#0116e1 56.5%,#0228ca 58.3%,#0235b8 60.1%,#0342a6 62.8%,#034b9a 66.2%,#035390 70.8%,#045f80 83.3%,#04627c 92.9%,#04637b 100.0%)"></div>
<div style="height:3px;background:linear-gradient(90deg,#033dad 0.0%,#0238b4 16.7%,#0232bc 26.2%,#022dc2 31.0%,#0122d1 36.7%,#0119dd 39.5%,#0111e9 41.3%,#0000fe 44.1%,#0000df 49.0%,#0000dc 50.5%,#0000e6 52.4%,#0000ff 54.8%,#0113e5 56.5%,#0226cd 58.3%,#0233bb 60.1%,#033faa 62.5%,#03489e 65.3%,#035291 70.8%,#045e81 83.3%,#04617d 88.1%,#04627b 100.0%)"></div>
<div style="height:3px;background:linear-gradient(90deg,#033dad 0.0%,#0238b4 16.7%,#0232bc 26.2%,#0229c8 33.3%,#011fd6 37.6%,#0110ea 41.3%,#0004f9 43.2%,#0000fd 44.1%,#0000dd 48.7%,#0000d9 50.4%,#0000df 51.8%,#0000e6 52.7%,#0000ff 55.1%,#011bdb 57.4%,#022ac6 59.1%,#0239b3 61.4%,#0341a7 63.4%,#034b9a 67.1%,#04548e 73.6%,#045d82 83.3%,#04607e 88.1%,#04627c 100.0%)"></div>
<div style="height:3px;background:linear-gradient(90deg,#033cae 0.0%,#0237b5 16.7%,#0231bd 26.2%,#0228c9 33.3%,#011ed7 37.6%,#0113e6 40.5%,#0003fb 43.2%,#0000fc 44.1%,#0000d9 49.0%,#0000d6 50.5%,#0000db 51.8%,#0000f0 53.9%,#0000ff 55.3%,#0116e2 57.1%,#0228c9 59.1%,#0238b4 61.6%,#0340a9 63.4%,#03499d 66.7%,#035290 72.7%,#045d83 83.3%,#04607e 90.5%,#04617d 100.0%)"></div>
<div style="height:3px;background:linear-gradient(90deg,#033caf 0.0%,#0237b6 16.7%,#0231be 26.2%,#0227ca 33.3%,#011dd8 37.6%,#0112e7 40.5%,#0004fa 42.9%,#0002fd 43.2%,#0000fb 44.1%,#0000d6 49.0%,#0000d3 50.5%,#0000d6 51.5%,#0000e5 53.1%,#0000ff 55.5%,#0116e2 57.4%,#0226cc 59.1%,#0235b7 61.4%,#033eab 63.4%,#03489f 66.7%,#034e97 69.9%,#045889 78.6%,#045f80 88.1%,#04607e 100.0%)"></div>
<div style="height:3px;background:linear-gradient(90deg,#023baf 0.0%,#0235b8 19.0%,#022ec2 28.6%,#0227cb 33.3%,#011cd9 37.6%,#0111e8 40.4%,#0007f6 42.2%,#0000ff 43.2%,#0000ec 45.9%,#0000d1 49.5%,#0000d0 50.5%,#0000d3 51.5%,#0000e2 53.1%,#0000ff 55.8%,#0116e2 57.6%,#0224cf 59.1%,#0231bd 61.0%,#033dad 63.4%,#03489f 67.1%,#035291 73.6%,#045d82 85.7%,#045f7f 95.2%,#04607e 100.0%)"></div>
<div style="height:3px;background:linear-gradient(90deg,#023bb0 0.0%,#0234b9 19.0%,#022fbf 26.2%,#0226cc 33.3%,#011cda 37.6%,#0110e9 40.4%,#0001fd 42.9%,#0000fe 43.2%,#0000f0 45.2%,#0000d1 49.0%,#0000cc 50.0%,#0000cd 50.8%,#0000d1 51.8%,#0000f0 54.6%,#0000ff 56.0%,#0115e3 57.8%,#0227cb 59.8%,#0233bb 61.6%,#033fab 64.3%,#0347a0 67.1%,#035192 73.6%,#045b85 83.3%,#045f80 95.2%,#045f7f 100.0%)"></div>
<div style="height:3px;background:linear-gradient(90deg,#023ab1 0.0%,#0235b8 16.7%,#022fc0 26.2%,#0229c7 31.0%,#0226cd 33.3%,#011bdb 37.6%,#010feb 40.5%,#0000ff 42.9%,#0000e9 45.9%,#0000ce 49.0%,#0000c9 50.0%,#0000c9 50.8%,#0000d2 52.2%,#0000ff 56.2%,#0111e8 57.6%,#0123d0 59.5%,#0233bb 61.9%,#033eac 64.4%,#03489f 68.0%,#034f95 72.7%,#045a86 83.3%,#045e81 92.9%,#045f80 100.0%)"></div>
<div style="height:3px;background:linear-gradient(90deg,#023ab1 0.0%,#0233ba 19.0%,#022cc4 28.6%,#0225cd 33.3%,#011dd8 36.7%,#0113e6 39.5%,#0009f3 41.3%,#0003fb 42.2%,#0000fe 42.9%,#0000e7 45.9%,#0000c8 49.5%,#0000c5 50.5%,#0000cb 51.8%,#0000d4 52.7%,#0000fb 56.0%,#0000ff 56.4%,#0116e2 58.3%,#0225cd 60.1%,#0231bd 61.9%,#033cae 64.4%,#0347a0 68.0%,#035094 73.8%,#045b85 85.7%,#045e81 100.0%)"></div>
<div style="height:3px;background:linear-gradient(90deg,#0239b2 0.0%,#0233bb 19.0%,#022bc5 28.6%,#0224ce 33.3%,#011cd9 36.7%,#0112e7 39.5%,#0002fc 42.2%,#0000fd 42.9%,#0000e6 45.9%,#0000c8 49.0%,#0000c3 50.0%,#0000c2 50.8%,#0000cb 52.2%,#0000f8 55.9%,#0000fd 56.5%,#0001fe 56.7%,#0113e6 58.2%,#0227cb 60.5%,#0233bb 62.5%,#023bb0 64.4%,#0343a5 67.1%,#034b9b 70.8%,#04548e 78.6%,#045b84 88.1%,#045e81 100.0%)"></div>
<div style="height:3px;background:linear-gradient(90deg,#0239b3 0.0%,#0233ba 16.7%,#022dc2 26.2%,#0224cf 33.3%,#011cda 36.7%,#0111e8 39.5%,#0007f6 41.3%,#0001fe 42.2%,#0000fa 43.2%,#0000ea 45.2%,#0000c6 49.0%,#0000bf 50.0%,#0000bf 50.8%,#0000c8 52.2%,#0000f4 55.8%,#0000ff 56.8%,#0111e8 58.3%,#0121d2 60.1%,#0231be 62.4%,#033dad 65.3%,#03489e 69.9%,#035193 76.2%,#045987 85.7%,#045c84 92.9%,#045d82 100.0%)"></div>
<div style="height:3px;background:linear-gradient(90deg,#0238b3 0.0%,#0232bc 19.0%,#022ac6 28.6%,#0123d0 33.3%,#011bdb 36.7%,#0110e9 39.5%,#0000ff 42.2%,#0000e9 45.2%,#0000be 49.6%,#0000bb 50.5%,#0000be 51.5%,#0000ca 52.7%,#0000f7 56.2%,#0000ff 57.0%,#010feb 58.3%,#011dd8 59.8%,#022bc6 61.6%,#0238b4 64.3%,#0341a7 67.1%,#034a9c 71.4%,#04558d 81.0%,#045b85 90.5%,#045c83 100.0%)"></div>
<div style="height:3px;background:linear-gradient(90deg,#0238b4 0.0%,#0231bd 19.0%,#022ac7 28.6%,#0122d1 33.3%,#011adc 36.7%,#010fea 39.5%,#0000fe 42.2%,#0000e8 45.2%,#0000bc 49.5%,#0000b7 50.5%,#0000ba 51.5%,#0000c7 52.7%,#0000f5 56.2%,#0000fe 57.1%,#0009f4 57.9%,#0119dd 59.5%,#0229c8 61.6%,#0233ba 63.4%,#033eac 66.2%,#03499d 71.4%,#04548e 81.0%,#045a86 90.5%,#045c84 100.0%)"></div>
<div style="height:3px;background:linear-gradient(90deg,#0237b5 0.0%,#0232bc 16.7%,#0229c8 28.6%,#0122d2 33.3%,#0119dd 36.7%,#0113e6 38.6%,#0009f3 40.5%,#0004fa 41.3%,#0000fd 42.2%,#0000e6 45.2%,#0000b9 49.5%,#0000b4 50.4%,#0000b6 51.3%,#0000be 52.2%,#0000f8 56.7%,#0000ff 57.4%,#0117e0 59.5%,#0226cc 61.4%,#0232bc 63.4%,#033faa 67.1%,#03489e 71.4%,#04568c 83.3%,#045a86 92.9%,#045b85 100.0%)"></div>
<div style="height:3px;background:linear-gradient(90deg,#0237b5 0.0%,#0231bd 16.7%,#022bc5 26.2%,#0121d2 33.3%,#0116e2 37.6%,#0008f4 40.5%,#0003fb 41.3%,#0000fc 42.2%,#0000e5 45.2%,#0000be 48.7%,#0000b2 49.9%,#0000b0 50.8%,#0000b6 51.8%,#0000c0 52.7%,#0000eb 55.8%,#0000ff 57.6%,#010eec 58.8%,#011fd5 60.7%,#022dc2 62.8%,#0238b3 65.3%,#0340a8 68.0%,#03489f 71.7%,#035390 81.0%,#045988 90.5%,#045b85 100.0%)"></div>
<div style="height:3px;background:linear-gradient(90deg,#0236b6 0.0%,#0231be 16.7%,#022ac6 26.2%,#0225ce 31.0%,#0121d3 33.3%,#0113e5 38.1%,#0007f5 40.5%,#0002fc 41.3%,#0000fb 42.2%,#0000e4 45.2%,#0000bb 48.7%,#0000ae 50.0%,#0000ae 51.3%,#0000bd 52.7%,#0000eb 55.9%,#0000ff 57.8%,#0113e5 59.5%,#0224ce 61.6%,#0233ba 64.3%,#033dad 67.1%,#0345a2 70.8%,#035094 78.6%,#04578a 88.1%,#045a86 100.0%)"></div>
<div style="height:3px;background:linear-gradient(90deg,#0236b7 0.0%,#0230be 16.7%,#022ac7 26.2%,#0224ce 31.0%,#011adc 35.7%,#0110e9 38.6%,#0007f6 40.5%,#0001fd 41.3%,#0000fb 42.2%,#0000e5 45.0%,#0000c4 47.8%,#0000ae 49.6%,#0000a9 50.5%,#0000ac 51.5%,#0000b4 52.2%,#0000eb 56.1%,#0000ff 57.9%,#0114e5 59.8%,#0225ce 61.9%,#022ec2 63.4%,#0239b2 66.2%,#0343a6 69.9%,#03499d 73.8%,#04538f 83.3%,#04578b 88.1%,#045987 100.0%)"></div>
<div style="height:3px;background:linear-gradient(90deg,#0235b7 0.0%,#0230bf 16.7%,#0227cb 28.6%,#011fd5 33.3%,#0117e0 36.7%,#000bf0 39.5%,#0000ff 41.3%,#0000f3 43.2%,#0000e1 45.2%,#0000c5 47.6%,#0000ab 49.6%,#0000a5 50.5%,#0000a8 51.5%,#0000b2 52.4%,#0000de 55.3%,#0000f3 56.9%,#0000ff 58.1%,#0115e3 60.1%,#0227ca 62.5%,#0235b8 65.3%,#0340a9 69.0%,#03489e 73.8%,#035390 83.3%,#045889 95.2%,#045988 100.0%)"></div>
<div style="height:3px;background:linear-gradient(90deg,#0235b8 0.0%,#022ec1 19.0%,#0229c8 26.2%,#0123d0 31.0%,#0119dd 35.7%,#010feb 38.6%,#0000fe 41.3%,#0000f3 43.2%,#0000e0 45.2%,#0000c3 47.6%,#0000a9 49.5%,#0000a1 50.5%,#0000a4 51.5%,#0000b3 52.7%,#0000da 55.1%,#0000f6 57.4%,#0000ff 58.3%,#0110e9 59.8%,#0122d2 61.9%,#022fbf 64.3%,#023ab1 67.1%,#0341a8 69.9%,#03479f 73.8%,#035094 81.0%,#04548e 85.7%,#045889 100.0%)"></div>
<div style="height:3px;background:linear-gradient(90deg,#0234b9 0.0%,#022fc0 16.7%,#0226cc 28.6%,#011ed6 33.3%,#0119de 35.7%,#010eec 38.6%,#0000fe 41.3%,#0000f2 43.2%,#0000df 45.2%,#0000be 47.8%,#0000a6 49.5%,#00009e 50.4%,#00009d 50.8%,#0000a3 51.8%,#0000b0 52.7%,#0000da 55.3%,#0000f2 57.1%,#0000fe 58.3%,#0005f9 58.8%,#0119dd 61.0%,#0224ce 62.5%,#0233bb 65.3%,#033caf 68.0%,#0345a3 72.7%,#034f95 81.0%,#04538f 85.7%,#04568c 92.9%,#04588a 100.0%)"></div>
<div style="height:3px;background:linear-gradient(90deg,#0234b9 0.0%,#022ec1 16.7%,#0228ca 26.2%,#0122d1 31.0%,#0118df 35.7%,#0110ea 38.1%,#0003fb 40.5%,#0000fd 41.3%,#0000f1 43.2%,#0000de 45.2%,#0000bd 47.8%,#0000a1 49.6%,#00009a 50.5%,#00009c 51.5%,#0000ad 52.7%,#0000d3 55.0%,#0000e8 56.5%,#0000fc 58.3%,#0001fe 58.7%,#0114e4 60.5%,#0225cd 62.8%,#0231bd 65.3%,#023bb0 68.0%,#0344a4 72.7%,#034e96 81.0%,#04548e 88.1%,#04578a 100.0%)"></div>
<div style="height:3px;background:linear-gradient(90deg,#0233ba 0.0%,#022ec2 16.7%,#0227ca 26.2%,#0121d2 31.0%,#0117e0 35.7%,#010feb 38.1%,#0003fc 40.5%,#0000fc 41.3%,#0000f0 43.2%,#0000dd 45.2%,#0000c8 46.9%,#00009e 49.6%,#000096 50.5%,#000097 51.3%,#0000a4 52.4%,#0000cb 54.6%,#0000e9 56.7%,#0000fe 58.7%,#0001fe 58.8%,#010eec 60.1%,#0121d3 62.4%,#022cc4 64.4%,#0237b5 67.1%,#0340a9 70.8%,#03489e 76.2%,#035291 85.7%,#04568b 100.0%)"></div>
<div style="height:3px;background:linear-gradient(90deg,#0233bb 0.0%,#022dc2 16.7%,#0227cb 26.2%,#0121d3 31.0%,#0117e0 35.7%,#010cef 38.6%,#0002fd 40.5%,#0000fc 41.3%,#0000ef 43.2%,#0000dc 45.2%,#0000c7 46.9%,#000097 49.9%,#000092 50.5%,#000095 51.5%,#0000a1 52.4%,#0000d0 55.1%,#0000eb 57.0%,#0000fe 58.8%,#0003fc 59.1%,#011adc 61.6%,#0226cc 63.4%,#022fc0 65.3%,#0236b6 67.1%,#0341a8 71.7%,#034a9b 78.6%,#035290 88.1%,#04568c 100.0%)"></div>
<div style="height:3px;background:linear-gradient(90deg,#0232bb 0.0%,#022dc3 16.7%,#0224cf 28.6%,#011cd9 33.3%,#0113e5 36.7%,#000cef 38.6%,#0001fe 40.5%,#0000fb 41.3%,#0000ee 43.2%,#0000da 45.2%,#0000c6 46.9%,#000098 49.6%,#000090 50.4%,#00008e 50.8%,#000094 51.8%,#0000af 53.3%,#0000ce 55.1%,#0000e5 56.7%,#0000f8 58.3%,#0001fe 59.1%,#0113e5 61.0%,#0121d3 62.8%,#022ac7 64.4%,#0235b8 67.1%,#033cae 69.9%,#0343a5 73.6%,#034c99 81.0%,#035291 88.1%,#04558d 100.0%)"></div>
<div style="height:3px;background:linear-gradient(90deg,#0232bc 0.0%,#022bc5 19.0%,#0226cc 26.2%,#0120d4 31.0%,#0116e2 35.7%,#000bf0 38.6%,#0000ff 40.5%,#0000f5 42.2%,#0000e6 44.1%,#0000d1 45.9%,#0000b5 47.8%,#000091 49.9%,#00008b 50.5%,#00008a 50.8%,#00008d 51.5%,#00009a 52.4%,#0000c3 54.5%,#0000dd 56.2%,#0000ef 57.6%,#0000fe 59.1%,#0117e0 61.6%,#0224cf 63.4%,#0231bd 66.2%,#033eac 70.8%,#03499d 78.6%,#035192 88.1%,#04548e 100.0%)"></div>
<div style="height:3px;background:linear-gradient(90deg,#0231bd 0.0%,#022cc4 16.7%,#0225cd 26.2%,#011fd5 31.0%,#0115e3 35.7%,#000af1 38.6%,#0000ff 40.5%,#0000ed 43.2%,#0000db 45.0%,#0000c3 46.9%,#0000a3 48.7%,#000092 49.6%,#000087 50.5%,#000086 50.8%,#000089 51.5%,#000097 52.4%,#0000c1 54.5%,#0000df 56.5%,#0000f5 58.3%,#0000fd 59.1%,#0002fd 59.5%,#0110e9 61.0%,#011fd6 62.8%,#0228ca 64.4%,#0233ba 67.1%,#033dae 70.8%,#0345a2 76.2%,#034f95 85.7%,#04548e 100.0%)"></div>
<div style="height:3px;background:linear-gradient(90deg,#0231bd 0.0%,#022bc5 16.7%,#0225ce 26.2%,#011fd6 31.0%,#011bdb 33.3%,#0111e8 36.7%,#000af2 38.6%,#0000fe 40.5%,#0000ec 43.2%,#0000d8 45.2%,#0000c2 46.9%,#000090 49.6%,#000089 50.0%,#000084 50.5%,#000084 51.3%,#000089 51.8%,#0000c3 54.8%,#0000dc 56.4%,#0000f3 58.2%,#0000ff 59.5%,#0113e5 61.4%,#0121d2 63.4%,#022bc5 65.3%,#0232bb 67.1%,#033caf 70.8%,#0344a3 76.2%,#034c98 83.3%,#035193 90.5%,#04538f 100.0%)"></div>
<div style="height:3px;background:linear-gradient(90deg,#0230be 0.0%,#022bc6 16.7%,#0224ce 26.2%,#011ed6 31.0%,#0114e4 35.7%,#0009f3 38.6%,#0000fe 40.5%,#0000ec 43.2%,#0000d7 45.2%,#0000b4 47.6%,#000086 50.0%,#000080 50.5%,#000080 51.3%,#00008e 52.2%,#0000bd 54.5%,#0000d6 56.1%,#0000f0 58.1%,#0000ff 59.6%,#0113e5 61.6%,#0225cd 64.3%,#0231bd 67.1%,#0239b2 69.9%,#0344a4 76.2%,#034c99 83.3%,#035192 95.2%,#035390 100.0%)"></div>
<div style="height:3px;background:linear-gradient(90deg,#0230bf 0.0%,#022ac6 16.7%,#0224cf 26.2%,#011ed7 31.0%,#0113e5 35.7%,#000bf1 38.1%,#0004fa 39.5%,#0000fd 40.5%,#0000eb 43.2%,#0000d6 45.2%,#0000bf 46.9%,#00009d 48.7%,#000083 50.0%,#020080 50.5%,#020080 51.3%,#000082 51.8%,#000094 52.7%,#0000bb 54.5%,#0000d7 56.2%,#0000f1 58.3%,#0000ff 59.8%,#0112e7 61.6%,#011fd5 63.4%,#022fc0 66.7%,#0238b4 69.9%,#033faa 73.6%,#034b9a 83.3%,#034f94 90.5%,#035291 100.0%)"></div>
<div style="height:3px;background:linear-gradient(90deg,#0230bf 0.0%,#022ac7 16.7%,#0121d3 28.6%,#0119dd 33.3%,#0110ea 36.7%,#0008f4 38.6%,#0003fb 39.5%,#0000fd 40.5%,#0000ea 43.2%,#0000d8 45.0%,#0000be 46.9%,#0000ae 47.8%,#000080 50.0%,#050080 50.8%,#010080 51.8%,#000087 52.2%,#0000b6 54.4%,#0000d2 56.0%,#0000f0 58.3%,#0000fe 59.8%,#0007f6 60.5%,#0113e5 61.9%,#0123cf 64.4%,#0230bf 67.1%,#0237b5 69.9%,#033eab 73.6%,#034a9b 83.3%,#034f95 90.5%,#035192 100.0%)"></div>
<div style="height:3px;background:linear-gradient(90deg,#022fc0 0.0%,#0228c9 19.0%,#0123d0 26.2%,#011dd8 31.0%,#0112e6 35.7%,#000af2 38.1%,#0002fc 39.5%,#0000fc 40.5%,#0000ea 43.2%,#0000d4 45.2%,#0000bd 46.9%,#0000ad 47.8%,#000085 49.6%,#010080 50.0%,#060080 50.8%,#050080 51.5%,#030080 51.8%,#000084 52.2%,#0000b0 54.1%,#0000cd 55.8%,#0000e4 57.4%,#0000fb 59.5%,#0001fe 60.1%,#0112e7 61.9%,#0122d1 64.3%,#022fc0 67.1%,#023ab1 71.4%,#0345a3 78.6%,#034c9a 85.7%,#035093 97.6%,#035193 100.0%)"></div>
<div style="height:3px;background:linear-gradient(90deg,#022fc0 0.0%,#0229c8 16.7%,#0120d4 28.6%,#0118df 33.3%,#010feb 36.7%,#0002fc 39.5%,#0000fc 40.5%,#0000e9 43.2%,#0000d4 45.2%,#0000af 47.6%,#000083 49.6%,#030080 50.0%,#080081 50.8%,#070080 51.5%,#000081 52.2%,#0000ae 54.1%,#0000c8 55.5%,#0000df 57.1%,#0000f3 58.8%,#0000fe 60.1%,#0004fa 60.5%,#0111e8 61.9%,#011cd9 63.4%,#022cc4 66.7%,#0234ba 69.0%,#033dad 73.6%,#03499d 83.3%,#034f95 95.2%,#035093 100.0%)"></div>
<div style="height:3px;background:linear-gradient(90deg,#022ec1 0.0%,#0227ca 19.0%,#011fd5 28.6%,#0118df 33.3%,#000af1 37.6%,#0001fd 39.5%,#0000fb 40.5%,#0000e9 43.2%,#0000d3 45.2%,#0000ca 45.9%,#0000ab 47.8%,#000081 49.6%,#090081 50.5%,#090081 51.5%,#010080 52.2%,#000082 52.4%,#0000ae 54.2%,#0000ca 55.8%,#0000e0 57.3%,#0000f2 58.8%,#0000fd 60.1%,#0004f9 60.7%,#0115e3 62.5%,#0120d3 64.4%,#022bc5 66.7%,#0235b8 69.9%,#033dae 73.8%,#03489e 83.3%,#034d98 90.5%,#035094 100.0%)"></div>
<div style="height:3px;background:linear-gradient(90deg,#022ec2 0.0%,#0228c9 16.7%,#0121d2 26.2%,#011bda 31.0%,#0111e8 35.7%,#0006f7 38.6%,#0001fe 39.5%,#0000fb 40.5%,#0000e8 43.2%,#0000d2 45.2%,#0000bb 46.9%,#0000aa 47.8%,#010080 49.6%,#0c0081 50.8%,#080080 51.8%,#000080 52.4%,#0000ac 54.2%,#0000c9 55.8%,#0000e7 57.9%,#0000fa 59.8%,#0002fd 60.5%,#0112e6 62.4%,#0120d5 64.4%,#022ac6 66.7%,#0234b9 69.9%,#033caf 73.8%,#03479f 83.3%,#034c99 90.5%,#034f95 100.0%)"></div>
<div style="height:3px;background:linear-gradient(90deg,#022dc2 0.0%,#0229c9 14.3%,#0121d3 26.2%,#011bdb 31.0%,#0117e1 33.3%,#010ded 36.7%,#0000ff 39.5%,#0000f5 41.3%,#0000e7 43.2%,#0000df 44.1%,#0000d2 45.2%,#0000ba 46.9%,#0000a9 47.8%,#000081 49.5%,#0c0081 50.5%,#0c0081 51.5%,#020080 52.4%,#000085 52.7%,#0000a9 54.1%,#0000c4 55.5%,#0000df 57.4%,#0000f7 59.5%,#0000fc 60.1%,#0001fe 60.5%,#0111e8 62.4%,#0119dd 63.4%,#0123cf 65.3%,#022bc5 67.1%,#0237b5 71.4%,#0342a7 78.6%,#034a9b 88.1%,#034e96 100.0%)"></div>
<div style="height:3px;background:linear-gradient(90deg,#022dc3 0.0%,#0226cc 19.0%,#0120d3 26.2%,#011adb 31.0%,#0116e1 33.3%,#010dee 36.7%,#0000ff 39.5%,#0000f5 41.3%,#0000e7 43.2%,#0000d1 45.2%,#0000c8 45.9%,#0000a8 47.8%,#000080 49.5%,#0d0081 50.5%,#0f0081 50.8%,#0b0081 51.8%,#030080 52.4%,#000083 52.7%,#0000a2 53.9%,#0000ba 55.1%,#0000d7 56.8%,#0000ef 58.8%,#0000ff 60.5%,#0110e9 62.4%,#011ed7 64.4%,#022ac6 67.1%,#0233bb 69.9%,#023ab1 73.8%,#0346a1 83.3%,#034b9b 90.5%,#034e97 100.0%)"></div>
<div style="height:3px;background:linear-gradient(90deg,#022cc3 0.0%,#0227cb 16.7%,#0120d4 26.2%,#011adc 31.0%,#0116e2 33.3%,#010cef 36.7%,#0000fe 39.5%,#0000f4 41.3%,#0000e7 43.2%,#0000d1 45.2%,#0000b9 46.9%,#0000a7 47.8%,#010080 49.5%,#0e0081 50.5%,#100081 50.8%,#0f0081 51.5%,#000081 52.7%,#0000a8 54.2%,#0000c8 55.9%,#0000e6 58.1%,#0000fe 60.5%,#0000ff 60.7%,#0111e9 62.5%,#011dd8 64.4%,#022ac7 67.1%,#0235b7 71.4%,#033dad 76.2%,#03479f 85.7%,#034d98 100.0%)"></div>
<div style="height:3px;background:linear-gradient(90deg,#022cc4 0.0%,#0226cc 16.7%,#0120d5 26.2%,#011add 31.0%,#010feb 35.7%,#0006f7 38.1%,#0000fe 39.5%,#0000ee 42.2%,#0000d3 45.0%,#0000c7 45.9%,#0000a7 47.8%,#010080 49.5%,#0f0081 50.5%,#110081 51.3%,#050080 52.4%,#000080 52.7%,#0000aa 54.4%,#0000c8 56.0%,#0000df 57.6%,#0000f0 59.1%,#0000fe 60.7%,#0007f6 61.4%,#0116e1 63.4%,#0225cd 66.2%,#0231bd 69.9%,#0239b3 73.8%,#0345a3 83.3%,#03499d 90.5%,#034c98 100.0%)"></div>
<div style="height:3px;background:linear-gradient(90deg,#022bc5 0.0%,#0226cc 16.7%,#011fd5 26.2%,#0119dd 31.0%,#0115e3 33.3%,#0008f5 37.6%,#0003fb 38.6%,#0000fe 39.5%,#0000f4 41.3%,#0000e6 43.2%,#0000d0 45.2%,#0000b8 46.9%,#0000a6 47.8%,#000089 49.0%,#020080 49.5%,#100081 50.5%,#120081 51.3%,#060080 52.4%,#010080 52.7%,#00008a 53.1%,#0000a2 54.1%,#0000be 55.5%,#0000d8 57.1%,#0000eb 58.7%,#0000fc 60.5%,#0001fd 61.0%,#0111e8 62.8%,#0120d4 65.3%,#022bc5 68.0%,#0234b9 71.4%,#0342a7 81.0%,#03489f 88.1%,#034c99 100.0%)"></div>
<div style="height:3px;background:linear-gradient(90deg,#022bc5 0.0%,#0225cd 16.7%,#011fd6 26.2%,#0119de 31.0%,#010eec 35.7%,#0003fb 38.6%,#0000fd 39.5%,#0000f3 41.3%,#0000e5 43.2%,#0000dd 44.1%,#0000c6 45.9%,#0000a6 47.8%,#000088 49.0%,#020080 49.5%,#100081 50.5%,#130081 50.8%,#120081 51.5%,#020080 52.7%,#00008d 53.3%,#0000a8 54.4%,#0000c6 56.0%,#0000dd 57.6%,#0000f3 59.5%,#0000ff 61.0%,#0110e9 62.8%,#011fd5 65.3%,#0227ca 67.1%,#0232bc 70.8%,#023bb0 76.2%,#0345a2 85.7%,#034a9b 97.6%,#034b9a 100.0%)"></div>
<div style="height:3px;background:linear-gradient(90deg,#022bc6 0.0%,#0123cf 19.0%,#011ed6 26.2%,#0118de 31.0%,#0114e4 33.3%,#0007f6 37.6%,#0002fc 38.6%,#0000fd 39.5%,#0000ed 42.2%,#0000d2 45.0%,#0000c6 45.9%,#0000a9 47.6%,#000088 49.0%,#020080 49.5%,#110081 50.5%,#130081 51.3%,#100081 51.8%,#030080 52.7%,#00008c 53.3%,#0000a7 54.4%,#0000c7 56.1%,#0000df 57.8%,#0000f7 60.1%,#0000ff 61.0%,#010fea 62.8%,#0119dd 64.4%,#0225ce 66.7%,#022fc0 69.9%,#0237b6 73.8%,#0343a6 83.3%,#03489e 92.9%,#034b9b 100.0%)"></div>
<div style="height:3px;background:linear-gradient(90deg,#022ac6 0.0%,#0224ce 16.7%,#011ed7 26.2%,#0118df 31.0%,#010ded 35.7%,#0002fc 38.6%,#0000fd 39.5%,#0000f3 41.3%,#0000e5 43.2%,#0000cf 45.2%,#0000b7 46.9%,#0000a5 47.8%,#000088 49.0%,#030080 49.5%,#110081 50.5%,#140081 51.3%,#080080 52.4%,#030080 52.7%,#000087 53.1%,#0000a1 54.1%,#0000b8 55.3%,#0000cc 56.5%,#0000e9 58.7%,#0000fe 61.0%,#0004f9 61.6%,#0113e6 63.4%,#0122d1 66.2%,#022ec1 69.9%,#0236b7 73.8%,#033dad 78.6%,#0347a0 90.5%,#034a9c 100.0%)"></div>
<div style="height:3px;background:linear-gradient(90deg,#022ac7 0.0%,#0224cf 16.7%,#011bdb 28.6%,#0113e6 33.3%,#0009f2 36.7%,#0001fd 38.6%,#0000fc 39.5%,#0000f2 41.3%,#0000e4 43.2%,#0000dc 44.1%,#0000c5 45.9%,#0000a5 47.8%,#000088 49.0%,#030080 49.5%,#110081 50.5%,#140081 50.8%,#130081 51.5%,#030080 52.7%,#000087 53.1%,#0000a2 54.2%,#0000bc 55.5%,#0000d3 57.0%,#0000ea 58.8%,#0000fd 61.0%,#0002fc 61.4%,#010eec 62.8%,#011dd8 65.3%,#0228c9 68.0%,#0232bc 71.7%,#033cae 78.6%,#0343a5 85.7%,#03499e 97.6%,#03499d 100.0%)"></div>
<div style="height:3px;background:linear-gradient(90deg,#0229c8 0.0%,#0224ce 14.3%,#011dd8 26.2%,#0117e0 31.0%,#0112e6 33.3%,#0009f3 36.7%,#0001fe 38.6%,#0000fc 39.5%,#0000ec 42.2%,#0000d1 45.0%,#0000c5 45.9%,#0000a5 47.8%,#000087 49.0%,#030080 49.5%,#110081 50.5%,#140081 50.8%,#130081 51.5%,#030080 52.7%,#000086 53.1%,#0000a0 54.1%,#0000b8 55.3%,#0000d5 57.1%,#0000e9 58.8%,#0000fd 61.0%,#0002fd 61.4%,#0112e7 63.4%,#0121d3 66.2%,#022dc3 69.9%,#0235b8 73.8%,#0341a8 83.3%,#0345a2 90.5%,#03499d 100.0%)"></div>
<div style="height:3px;background:linear-gradient(90deg,#0229c8 0.0%,#0123d0 16.7%,#011cd9 26.2%,#0116e1 31.0%,#000cef 35.7%,#0000fe 38.6%,#0000f6 40.5%,#0000e4 43.2%,#0000ce 45.2%,#0000b6 46.9%,#0000a4 47.8%,#000087 49.0%,#030080 49.5%,#110081 50.5%,#140081 51.3%,#080080 52.4%,#030080 52.7%,#000086 53.1%,#0000a0 54.1%,#0000bb 55.5%,#0000ce 56.7%,#0000e3 58.3%,#0000f9 60.5%,#0001fe 61.4%,#0111e8 63.4%,#0120d4 66.2%,#022cc4 69.9%,#0234b9 73.8%,#0340a9 83.3%,#0345a3 90.5%,#03489e 100.0%)"></div>
<div style="height:3px;background:linear-gradient(90deg,#0228c9 0.0%,#0124cf 14.3%,#011ed7 23.8%,#0119dd 28.6%,#0111e8 33.3%,#0008f4 36.7%,#0000ff 38.6%,#0000f6 40.5%,#0000e6 42.9%,#0000db 44.1%,#0000c4 45.9%,#0000b6 46.9%,#0000a4 47.8%,#000087 49.0%,#030080 49.5%,#110081 50.5%,#130081 51.3%,#100081 51.8%,#030080 52.7%,#000086 53.1%,#0000a5 54.4%,#0000c3 56.0%,#0000da 57.6%,#0000ec 59.1%,#0000fc 61.0%,#0001fe 61.4%,#0110e9 63.4%,#011bdb 65.3%,#0123d0 67.1%,#022ec2 70.8%,#0233ba 73.8%,#033faa 83.3%,#0345a2 92.9%,#03489f 100.0%)"></div>
<div style="height:3px;background:linear-gradient(90deg,#0228c9 0.0%,#0121d3 19.0%,#011bda 26.2%,#0115e2 31.0%,#0111e8 33.3%,#0004fa 37.6%,#0000ff 38.6%,#0000f1 41.3%,#0000e3 43.2%,#0000cd 45.2%,#0000c4 45.9%,#0000a4 47.8%,#000088 49.0%,#020080 49.5%,#100081 50.5%,#130081 51.3%,#080080 52.4%,#030080 52.7%,#000087 53.1%,#0000a1 54.2%,#0000ba 55.5%,#0000d7 57.4%,#0000eb 59.1%,#0000ff 61.4%,#000bf0 62.8%,#0116e2 64.4%,#0121d3 66.7%,#022bc5 69.9%,#0233bb 73.8%,#033fab 83.3%,#0344a3 92.9%,#0347a0 100.0%)"></div>
<div style="height:3px;background:linear-gradient(90deg,#0227ca 0.0%,#0122d2 16.7%,#0118de 28.6%,#0110e9 33.3%,#0007f6 36.7%,#0000fe 38.6%,#0000f5 40.5%,#0000e3 43.2%,#0000cd 45.2%,#0000c4 45.9%,#0000a4 47.8%,#000088 49.0%,#020080 49.5%,#100081 50.5%,#120081 51.3%,#0f0081 51.8%,#030080 52.7%,#000087 53.1%,#0000a8 54.5%,#0000bf 55.8%,#0000dc 57.8%,#0000f8 60.5%,#0000ff 61.4%,#010feb 63.4%,#011ed6 66.2%,#022ac6 69.9%,#0232bc 73.8%,#033eac 83.3%,#0344a4 92.9%,#0346a0 100.0%)"></div>
<div style="height:3px;background:linear-gradient(90deg,#0227cb 0.0%,#0120d4 19.0%,#0118df 28.6%,#0110e9 33.3%,#0003fb 37.6%,#0001fe 38.1%,#0000fe 38.6%,#0000f5 40.5%,#0000e3 43.2%,#0000cd 45.2%,#0000c4 45.9%,#0000a4 47.8%,#000088 49.0%,#020080 49.5%,#0f0081 50.5%,#110081 51.3%,#090081 52.2%,#020080 52.7%,#000087 53.1%,#0000a8 54.5%,#0000bf 55.8%,#0000d7 57.4%,#0000eb 59.1%,#0000fe 61.4%,#0003fb 61.9%,#0114e4 64.3%,#0120d5 66.7%,#022ac7 69.9%,#0232bc 73.8%,#023bb0 81.0%,#0342a6 90.5%,#0346a1 100.0%)"></div>
<div style="height:3px;background:linear-gradient(90deg,#0227cb 0.0%,#0121d3 16.7%,#011adc 26.2%,#0114e4 31.0%,#0110ea 33.3%,#0006f7 36.7%,#0000fe 38.1%,#0000fe 38.6%,#0000f0 41.3%,#0000e2 43.2%,#0000d0 45.0%,#0000c4 45.9%,#0000a4 47.8%,#010080 49.5%,#0e0081 50.5%,#100081 51.3%,#0d0081 51.8%,#020080 52.7%,#00008c 53.3%,#0000ad 54.8%,#0000c6 56.2%,#0000e6 58.7%,#0000fe 61.4%,#0000ff 61.6%,#010eec 63.4%,#0119de 65.3%,#0121d3 67.1%,#022dc3 71.4%,#0238b4 78.6%,#0342a7 90.5%,#0345a2 100.0%)"></div>
<div style="height:3px;background:linear-gradient(90deg,#0226cc 0.0%,#0120d4 16.7%,#011add 26.2%,#0114e5 31.0%,#0009f3 35.7%,#0000ff 38.1%,#0000f0 41.3%,#0000e2 43.2%,#0000da 44.1%,#0000c4 45.9%,#0000a5 47.8%,#010080 49.5%,#0d0081 50.5%,#0f0081 51.3%,#0c0081 51.8%,#010080 52.7%,#00009b 53.9%,#0000ba 55.5%,#0000d1 57.0%,#0000e1 58.3%,#0000f7 60.5%,#0000ff 61.6%,#010eed 63.4%,#0118de 65.3%,#0123d0 68.0%,#022dc3 71.7%,#0237b5 78.6%,#0340a9 88.1%,#0345a3 100.0%)"></div>
<div style="height:3px;background:linear-gradient(90deg,#0226cc 0.0%,#011ed6 19.0%,#0119dd 26.2%,#0113e5 31.0%,#010feb 33.3%,#0000ff 38.1%,#0000f4 40.5%,#0000e2 43.2%,#0000cd 45.2%,#0000b6 46.9%,#0000a5 47.8%,#000080 49.5%,#0c0081 50.5%,#0e0081 51.3%,#050080 52.4%,#010080 52.7%,#0000aa 54.6%,#0000bf 55.8%,#0000d5 57.3%,#0000e7 58.8%,#0000fa 61.0%,#0000fe 61.6%,#0002fd 61.9%,#0112e6 64.3%,#0120d5 67.1%,#0228c9 69.9%,#0230bf 73.8%,#033baf 83.3%,#0341a7 92.9%,#0344a4 100.0%)"></div>
<div style="height:3px;background:linear-gradient(90deg,#0225cd 0.0%,#011fd5 16.7%,#0119de 26.2%,#0113e6 31.0%,#0008f4 35.7%,#0000fe 38.1%,#0000f4 40.5%,#0000e2 43.2%,#0000cd 45.2%,#0000b6 46.9%,#000092 48.7%,#000081 49.5%,#0b0081 50.5%,#0d0081 51.3%,#040080 52.4%,#000080 52.7%,#0000a6 54.4%,#0000c3 56.0%,#0000e1 58.3%,#0000f2 60.1%,#0000fe 61.6%,#0001fd 61.9%,#010dee 63.4%,#0117e0 65.3%,#0122d1 68.0%,#022dc2 72.7%,#0236b7 78.6%,#033eab 88.1%,#0344a4 100.0%)"></div>
<div style="height:3px;background:linear-gradient(90deg,#0225ce 0.0%,#011ed7 19.0%,#0116e2 28.6%,#010eed 33.3%,#0004f9 36.7%,#0001fe 37.6%,#0000fc 38.6%,#0000f4 40.5%,#0000e2 43.2%,#0000cd 45.2%,#0000b6 46.9%,#0000a6 47.8%,#010080 49.6%,#0a0081 50.5%,#0b0081 51.5%,#000081 52.7%,#0000ab 54.6%,#0000c3 56.0%,#0000e1 58.3%,#0000f7 60.7%,#0000fe 61.6%,#0001fe 61.9%,#010cee 63.4%,#011bdb 66.2%,#0227cb 69.9%,#022fc1 73.8%,#023ab1 83.3%,#0340a9 92.9%,#0343a5 100.0%)"></div>
<div style="height:3px;background:linear-gradient(90deg,#0224ce 0.0%,#011ed6 16.7%,#0118df 26.2%,#0112e7 31.0%,#0007f5 35.7%,#0000ff 37.6%,#0000ef 41.3%,#0000e1 43.2%,#0000cd 45.2%,#0000b6 46.9%,#000094 48.7%,#000080 49.6%,#090081 50.5%,#0a0081 51.5%,#020080 52.4%,#000083 52.7%,#0000ac 54.6%,#0000c9 56.4%,#0000e1 58.3%,#0000f7 60.7%,#0000fe 61.6%,#0001fe 61.9%,#0111e8 64.3%,#011ed7 67.1%,#022ac7 71.4%,#0235b8 78.6%,#033dad 88.1%,#0342a6 100.0%)"></div>
<div style="height:3px;background:linear-gradient(90deg,#0224cf 0.0%,#011ed7 16.7%,#0115e3 28.6%,#010dee 33.3%,#0004fa 36.7%,#0000ff 37.6%,#0000f3 40.5%,#0000e1 43.2%,#0000cd 45.2%,#0000b7 46.9%,#000095 48.7%,#000082 49.6%,#060080 50.4%,#090081 50.8%,#070080 51.8%,#010080 52.4%,#000084 52.7%,#0000ab 54.5%,#0000c7 56.2%,#0000df 58.1%,#0000f7 60.7%,#0000fe 61.9%,#0111e8 64.4%,#011cda 66.7%,#0123cf 69.0%,#022dc3 73.6%,#0234b9 78.6%,#033eac 90.5%,#0342a7 100.0%)"></div>
<div style="height:3px;background:linear-gradient(90deg,#0123cf 0.0%,#011fd6 14.3%,#0117e0 26.2%,#0111e8 31.0%,#0006f6 35.7%,#0000ff 37.6%,#0000f3 40.5%,#0000e1 43.2%,#0000cd 45.2%,#0000b7 46.9%,#0000a8 47.8%,#000083 49.6%,#020080 50.0%,#070080 50.8%,#070080 51.5%,#000080 52.4%,#0000a9 54.4%,#0000c5 56.1%,#0000df 58.1%,#0000f2 60.1%,#0000ff 61.9%,#0110e9 64.3%,#011dd8 67.1%,#0227ca 70.8%,#0230be 76.2%,#0238b3 83.3%,#033eab 92.9%,#0341a7 100.0%)"></div>
<div style="height:3px;background:linear-gradient(90deg,#0123d0 0.0%,#011dd8 16.7%,#0119de 23.8%,#0114e4 28.6%,#010cef 33.3%,#0000fe 37.6%,#0000f8 39.5%,#0000e4 42.9%,#0000cd 45.2%,#0000ab 47.6%,#000080 49.9%,#060080 50.8%,#060080 51.5%,#010080 52.2%,#0000b2 54.8%,#0000ce 56.7%,#0000e7 58.8%,#0000fc 61.4%,#0000ff 61.9%,#0110e9 64.4%,#011cd9 67.1%,#0227cb 70.8%,#0230bf 76.2%,#0238b4 83.3%,#033eac 92.9%,#0341a8 100.0%)"></div>
<div style="height:3px;background:linear-gradient(90deg,#0123d1 0.0%,#011ed7 14.3%,#0116e1 26.2%,#0110e9 31.0%,#0006f7 35.7%,#0002fc 36.7%,#0000fe 37.6%,#0000f3 40.5%,#0000e1 43.2%,#0000cd 45.2%,#0000b8 46.9%,#0000a9 47.8%,#000080 50.0%,#050080 50.8%,#030080 51.8%,#000081 52.2%,#0000b5 55.0%,#0000cb 56.5%,#0000df 58.1%,#0000f2 60.1%,#0000ff 61.9%,#0110ea 64.4%,#011adc 66.7%,#0122d2 69.0%,#022ac7 72.7%,#0237b5 83.3%,#033dad 92.9%,#0340a9 100.0%)"></div>
<div style="height:3px;background:linear-gradient(90deg,#0122d1 0.0%,#011cd9 16.7%,#0116e2 26.2%,#0110ea 31.0%,#0005f8 35.7%,#0000fe 37.6%,#0000ee 41.3%,#0000e1 43.2%,#0000cd 45.2%,#0000b8 46.9%,#0000aa 47.8%,#000084 49.9%,#020080 50.5%,#030080 51.5%,#000083 52.2%,#0000b7 55.1%,#0000d2 56.9%,#0000ea 59.1%,#0000ff 61.9%,#010fea 64.4%,#011bda 67.1%,#0123cf 69.9%,#022bc5 73.8%,#0234b9 81.0%,#023ab1 88.1%,#0340aa 100.0%)"></div>
<div style="height:3px;background:linear-gradient(90deg,#0122d2 0.0%,#011bdb 19.0%,#0113e6 28.6%,#000bf0 33.3%,#0002fd 36.7%,#0000fe 37.6%,#0000ee 41.3%,#0000d9 44.1%,#0000ce 45.2%,#0000b9 46.9%,#00009b 48.7%,#000085 50.0%,#000080 50.4%,#020080 51.3%,#000080 51.8%,#00008d 52.7%,#0000b9 55.1%,#0000d5 57.1%,#0000ee 59.6%,#0000fe 61.9%,#0004fa 62.5%,#010feb 64.4%,#0119dd 66.7%,#0123d0 69.9%,#022ac6 73.8%,#0234ba 81.0%,#023bb0 90.5%,#033faa 100.0%)"></div>
<div style="height:3px;background:linear-gradient(90deg,#0121d2 0.0%,#011bda 16.7%,#0115e3 26.2%,#010feb 31.0%,#0004f9 35.7%,#0001fd 36.7%,#0000fc 38.1%,#0000f2 40.5%,#0000e1 43.2%,#0000ce 45.2%,#0000b9 46.9%,#000097 49.0%,#000087 50.0%,#000081 50.5%,#000080 51.5%,#000088 52.2%,#0000bc 55.3%,#0000de 57.9%,#0000f5 60.5%,#0000fe 61.9%,#0006f8 62.8%,#010feb 64.4%,#011adc 67.1%,#0226cc 71.4%,#0230be 78.6%,#0237b5 85.7%,#033eab 100.0%)"></div>
<div style="height:3px;background:linear-gradient(90deg,#0121d3 0.0%,#011bdb 16.7%,#0112e7 28.6%,#000af1 33.3%,#0001fe 36.7%,#0000fa 38.6%,#0000ed 41.3%,#0000e1 43.2%,#0000ce 45.2%,#0000af 47.6%,#000089 50.0%,#000082 50.8%,#000083 51.5%,#00008c 52.4%,#0000bf 55.5%,#0000db 57.6%,#0000ef 59.8%,#0000fe 61.9%,#0005f8 62.8%,#010eec 64.4%,#011adc 67.1%,#0122d2 69.9%,#0229c7 73.8%,#0235b8 83.3%,#023bb0 92.9%,#033eac 100.0%)"></div>
<div style="height:3px;background:linear-gradient(90deg,#0121d3 0.0%,#0119dd 19.0%,#0114e4 26.2%,#010eec 31.0%,#0004fa 35.7%,#0001fe 36.7%,#0000fa 38.6%,#0000ed 41.3%,#0000e1 43.2%,#0000d1 45.0%,#0000bb 46.9%,#00008b 50.0%,#000086 50.5%,#000085 51.5%,#00008e 52.4%,#0000c1 55.5%,#0000db 57.6%,#0000ef 59.8%,#0000fe 61.9%,#0005f8 62.8%,#0112e6 65.3%,#011add 67.1%,#0121d2 69.9%,#0229c8 73.8%,#0234b9 83.3%,#023ab1 92.9%,#033dad 100.0%)"></div>
<div style="height:3px;background:linear-gradient(90deg,#0120d4 0.0%,#011adc 16.7%,#0114e5 26.2%,#010eed 31.0%,#0009f2 33.3%,#0000ff 36.7%,#0000f6 39.5%,#0000e8 42.2%,#0000da 44.1%,#0000c7 45.9%,#0000ae 47.8%,#00008e 49.9%,#000087 50.8%,#000088 51.5%,#000091 52.4%,#0000a3 53.6%,#0000be 55.3%,#0000d9 57.4%,#0000ef 59.8%,#0000fe 61.9%,#0002fd 62.4%,#010eed 64.4%,#011cd9 68.0%,#0228c9 73.6%,#0231bd 81.0%,#0237b5 88.1%,#033dad 100.0%)"></div>
<div style="height:3px;background:linear-gradient(90deg,#0120d4 0.0%,#0117e0 21.4%,#0111e9 28.6%,#0009f3 33.3%,#0000ff 36.7%,#0000f2 40.4%,#0000e8 42.2%,#0000da 44.1%,#0000c7 45.9%,#0000af 47.8%,#000094 49.6%,#00008b 50.5%,#00008a 51.5%,#000093 52.4%,#0000c2 55.5%,#0000d9 57.4%,#0000f2 60.1%,#0000fe 61.9%,#0001fd 62.4%,#010dee 64.3%,#0117e0 66.7%,#0120d4 69.9%,#0227ca 73.6%,#0231be 81.0%,#0238b4 90.5%,#033cae 100.0%)"></div>
<div style="height:3px;background:linear-gradient(90deg,#011fd5 0.0%,#0119dd 16.7%,#0113e6 26.2%,#010dee 31.0%,#0009f3 33.3%,#0000ff 36.7%,#0000f2 40.4%,#0000e8 42.2%,#0000da 44.1%,#0000c8 45.9%,#0000b0 47.8%,#000096 49.6%,#00008c 50.8%,#00008d 51.5%,#000095 52.4%,#0000ab 53.9%,#0000c8 55.9%,#0000dc 57.6%,#0000f2 60.1%,#0000fe 61.9%,#0002fc 62.5%,#010dee 64.4%,#0118df 67.1%,#0120d4 69.9%,#0227ca 73.8%,#0230be 81.0%,#0237b5 90.5%,#033caf 100.0%)"></div>
<div style="height:3px;background:linear-gradient(90deg,#011fd5 0.0%,#0116e1 21.4%,#0110ea 28.6%,#0008f4 33.3%,#0000fe 36.7%,#0000f2 40.4%,#0000e8 42.2%,#0000d0 45.2%,#0000b1 47.8%,#000094 50.0%,#00008f 50.8%,#000091 51.8%,#00009b 52.7%,#0000cd 56.2%,#0000e3 58.3%,#0000f6 60.7%,#0000fd 61.9%,#0002fc 62.5%,#0111e8 65.3%,#011dd8 69.0%,#0225ce 72.7%,#0232bc 83.3%,#0238b4 92.9%,#023bb0 100.0%)"></div>
<div style="height:3px;background:linear-gradient(90deg,#011fd6 0.0%,#0118de 16.7%,#0112e7 26.2%,#010cef 31.0%,#0008f4 33.3%,#0000fe 36.7%,#0000f5 39.5%,#0000e8 42.2%,#0000d0 45.2%,#0000b2 47.8%,#000096 50.0%,#000091 50.8%,#000092 51.5%,#000099 52.4%,#0000d3 56.7%,#0000eb 59.1%,#0000fd 61.9%,#0001fe 62.4%,#010cef 64.4%,#0117e0 67.1%,#011fd6 69.9%,#0226cc 73.8%,#022fc0 81.0%,#0236b6 90.5%,#023bb0 100.0%)"></div>
<div style="height:3px;background:linear-gradient(90deg,#011ed7 0.0%,#0117e0 19.0%,#0112e7 26.2%,#000cef 31.0%,#0002fd 35.7%,#0000fe 36.7%,#0000f5 39.5%,#0000e8 42.2%,#0000d0 45.2%,#0000bf 46.9%,#00009c 49.6%,#000095 50.5%,#000094 51.5%,#00009b 52.4%,#0000b3 54.2%,#0000d6 56.9%,#0000ee 59.5%,#0000fd 61.9%,#0002fd 62.5%,#010cef 64.4%,#0117e0 67.1%,#0122d1 71.7%,#022cc4 78.6%,#0236b7 90.5%,#023ab1 100.0%)"></div>
<div style="height:3px;background:linear-gradient(90deg,#011ed7 0.0%,#0118df 16.7%,#010feb 28.6%,#0007f5 33.3%,#0001fd 35.7%,#0000fe 36.7%,#0000ed 41.3%,#0000db 44.1%,#0000ca 45.9%,#00009b 49.9%,#000096 50.8%,#000098 51.8%,#0000a1 52.7%,#0000d4 56.7%,#0000eb 59.1%,#0000fd 61.9%,#0002fd 62.5%,#000cef 64.4%,#0119dd 68.0%,#0123d0 72.7%,#0230be 83.3%,#0236b6 92.9%,#023ab2 100.0%)"></div>
<div style="height:3px;background:linear-gradient(90deg,#011dd8 0.0%,#0116e1 19.0%,#0111e8 26.2%,#000bf0 31.0%,#0001fd 35.7%,#0000fe 36.7%,#0000ed 41.3%,#0000db 44.1%,#0000ca 45.9%,#0000a0 49.6%,#000099 50.5%,#00009a 51.8%,#0000a2 52.7%,#0000d2 56.5%,#0000e4 58.3%,#0000f6 60.7%,#0000fd 61.9%,#0001fd 62.5%,#000bf0 64.4%,#0116e1 67.1%,#0121d3 71.4%,#0228c9 76.2%,#0230bf 83.3%,#0237b5 95.2%,#0239b2 100.0%)"></div>
<div style="height:3px;background:linear-gradient(90deg,#011dd8 0.0%,#0117e0 16.7%,#010eec 28.6%,#0006f6 33.3%,#0001fe 35.7%,#0000f8 38.6%,#0000ed 41.3%,#0000db 44.1%,#0000cb 45.9%,#00009f 49.9%,#00009b 50.8%,#00009b 51.5%,#0000a4 52.7%,#0000d0 56.2%,#0000e9 58.8%,#0000fd 61.9%,#0000ff 62.4%,#000bf0 64.4%,#0116e2 67.1%,#0121d3 71.7%,#022ac6 78.6%,#0234b9 90.5%,#0239b3 100.0%)"></div>
<div style="height:3px;background:linear-gradient(90deg,#011dd9 0.0%,#0115e2 19.0%,#0110e9 26.2%,#000af1 31.0%,#0001fe 35.7%,#0000f8 38.6%,#0000ed 41.3%,#0000db 44.1%,#0000cb 45.9%,#0000a1 49.9%,#00009d 50.8%,#00009f 51.8%,#0000a6 52.7%,#0000d3 56.5%,#0000e9 58.8%,#0000fd 61.9%,#0000ff 62.4%,#010feb 65.3%,#0118df 68.0%,#0122d2 72.7%,#022cc4 81.0%,#0235b8 92.9%,#0238b4 100.0%)"></div>
<div style="height:3px;background:linear-gradient(90deg,#011cd9 0.0%,#0115e3 19.0%,#010ded 28.6%,#0006f7 33.3%,#0000ff 35.7%,#0000f8 38.6%,#0000e8 42.2%,#0000dc 44.1%,#0000cc 45.9%,#0000a5 49.6%,#00009f 50.8%,#0000a1 51.8%,#0000a8 52.7%,#0000d6 56.7%,#0000ec 59.1%,#0000ff 62.4%,#000bf1 64.4%,#0118df 68.0%,#0123d0 73.8%,#022ec1 83.3%,#0237b5 100.0%)"></div>
<div style="height:3px;background:linear-gradient(90deg,#011cda 0.0%,#0115e3 19.0%,#010fea 26.2%,#000af2 31.0%,#0000ff 35.7%,#0000f8 38.6%,#0000e8 42.2%,#0000d3 45.2%,#0000a5 49.9%,#0000a1 50.8%,#0000a3 51.8%,#0000b0 53.3%,#0000d4 56.5%,#0000e5 58.3%,#0000f5 60.5%,#0000ff 62.4%,#010eec 65.3%,#0117e0 68.0%,#0121d3 72.7%,#022bc5 81.0%,#0232bb 90.5%,#0237b5 100.0%)"></div>
<div style="height:3px;background:linear-gradient(90deg,#011bda 0.0%,#0114e4 19.0%,#010cee 28.6%,#0005f8 33.3%,#0000ff 35.7%,#0000f1 40.4%,#0000e2 43.2%,#0000cd 45.9%,#0000a9 49.6%,#0000a3 50.8%,#0000a5 51.8%,#0000b2 53.3%,#0000d7 56.7%,#0000e5 58.3%,#0000f5 60.5%,#0000ff 62.4%,#000af2 64.4%,#0114e4 67.1%,#011dd8 70.8%,#0225cd 76.2%,#022fc0 85.7%,#0236b6 100.0%)"></div>
<div style="height:3px;background:linear-gradient(90deg,#011bdb 0.0%,#0114e4 19.0%,#010feb 26.2%,#0005f8 33.3%,#0000ff 35.7%,#0000f1 40.4%,#0000e2 43.2%,#0000cd 45.9%,#0000ab 49.6%,#0000a5 50.8%,#0000a7 51.8%,#0000ad 52.7%,#0000da 56.9%,#0000ef 59.6%,#0000ff 62.4%,#010ded 65.3%,#0116e1 68.0%,#0120d4 72.7%,#022ac7 81.0%,#0231bd 90.5%,#0236b7 100.0%)"></div>
<div style="height:3px;background:linear-gradient(90deg,#011bdb 0.0%,#0113e5 19.0%,#000cef 28.6%,#0000fe 35.7%,#0000f4 39.5%,#0000e3 43.2%,#0000ce 45.9%,#0000ac 49.6%,#0000a7 50.8%,#0000a9 51.8%,#0000b5 53.3%,#0000de 57.3%,#0000f6 60.7%,#0000ff 62.4%,#010ded 65.3%,#011adc 69.9%,#0224ce 76.2%,#022ec2 85.7%,#0235b7 100.0%)"></div>
<div style="height:3px;background:linear-gradient(90deg,#011adc 0.0%,#0113e5 19.0%,#010eec 26.2%,#0000fe 35.7%,#0000f4 39.5%,#0000e3 43.2%,#0000cf 45.9%,#0000af 49.5%,#0000a9 50.8%,#0000ae 52.4%,#0000c3 54.5%,#0000e1 57.6%,#0000f2 60.1%,#0000ff 62.5%,#0009f3 64.4%,#0112e7 66.7%,#011dd8 71.4%,#0229c8 81.0%,#0230be 90.5%,#0235b8 100.0%)"></div>
<div style="height:3px;background:linear-gradient(90deg,#011adc 0.0%,#0113e6 19.0%,#000bf0 28.6%,#0000fe 35.7%,#0000f4 39.5%,#0000e3 43.2%,#0000cf 45.9%,#0000b0 49.6%,#0000ab 50.8%,#0000b0 52.4%,#0000c0 54.1%,#0000dd 57.1%,#0000ed 59.1%,#0000fc 61.9%,#0000ff 62.5%,#010dee 65.3%,#0119dd 69.9%,#0120d4 73.8%,#022bc6 83.3%,#0233ba 97.6%,#0234b9 100.0%)"></div>
<div style="height:3px;background:linear-gradient(90deg,#011add 0.0%,#0112e6 19.0%,#010ded 26.2%,#0004fa 33.3%,#0000fe 35.7%,#0000f4 39.5%,#0000e3 43.2%,#0000d0 45.9%,#0000b1 49.6%,#0000ad 51.3%,#0000b4 52.7%,#0000e0 57.4%,#0000f3 60.1%,#0000ff 62.5%,#0009f3 64.4%,#0115e3 68.0%,#0120d4 73.8%,#022ac6 83.3%,#0234b9 100.0%)"></div>
<div style="height:3px;background:linear-gradient(90deg,#0119dd 0.0%,#0112e7 19.0%,#000af1 28.6%,#0000fe 35.7%,#0000f4 39.5%,#0000e3 43.2%,#0000c9 46.9%,#0000b4 49.5%,#0000af 50.5%,#0000b0 51.8%,#0000ba 53.3%,#0000de 57.1%,#0000ed 59.1%,#0000fc 61.9%,#0000ff 62.5%,#010cef 65.3%,#0117e1 69.0%,#011dd7 72.7%,#022ac7 83.3%,#0232bb 97.6%,#0234ba 100.0%)"></div>
<div style="height:3px;background:linear-gradient(90deg,#0119de 0.0%,#0112e7 19.0%,#000af1 28.6%,#0003fb 33.3%,#0000fd 35.7%,#0000f4 39.5%,#0000de 44.1%,#0000c2 47.8%,#0000b4 49.6%,#0000b1 50.8%,#0000b2 51.8%,#0000be 53.6%,#0000e0 57.3%,#0000f3 60.1%,#0000ff 62.5%,#000cef 65.3%,#0116e1 69.0%,#011dd8 72.7%,#0225ce 78.6%,#022ec1 90.5%,#0233ba 100.0%)"></div>
<div style="height:3px;background:linear-gradient(90deg,#0118de 0.0%,#0112e6 16.7%,#000af2 28.6%,#0003fb 33.3%,#0000fd 35.7%,#0000f6 38.6%,#0000ec 41.3%,#0000de 44.1%,#0000b6 49.6%,#0000b2 50.8%,#0000b8 52.7%,#0000e4 57.8%,#0000f8 61.0%,#0000ff 62.5%,#000bf0 65.3%,#0118df 69.9%,#0121d2 76.2%,#022bc6 85.7%,#0233bb 100.0%)"></div>
<div style="height:3px;background:linear-gradient(90deg,#0118df 0.0%,#0111e8 19.0%,#0009f2 28.6%,#0003fc 33.3%,#0000fd 35.7%,#0000f3 39.5%,#0000e4 43.2%,#0000cb 46.9%,#0000b7 49.6%,#0000b4 50.8%,#0000b7 52.2%,#0000c7 54.4%,#0000e3 57.6%,#0000f3 60.1%,#0000ff 62.5%,#010eec 66.2%,#0119dd 70.8%,#0224cf 78.6%,#022dc2 90.5%,#0232bc 100.0%)"></div>
<div style="height:3px;background:linear-gradient(90deg,#0118df 0.0%,#0112e7 16.7%,#000cef 26.2%,#0002fc 33.3%,#0000fd 35.7%,#0000f3 39.5%,#0000e4 43.2%,#0000cc 46.9%,#0000bc 49.0%,#0000b6 50.5%,#0000b7 51.8%,#0000be 53.1%,#0000e2 57.4%,#0000f3 60.1%,#0000fe 62.5%,#0001fe 62.8%,#0007f5 64.4%,#0113e6 68.0%,#011cda 72.7%,#0123d0 78.6%,#022dc3 90.5%,#0232bc 100.0%)"></div>
<div style="height:3px;background:linear-gradient(90deg,#0117e0 0.0%,#0110e9 19.0%,#0009f3 28.6%,#0002fc 33.3%,#0000fd 35.7%,#0000f0 40.5%,#0000df 44.1%,#0000ba 49.6%,#0000b7 50.8%,#0000bb 52.4%,#0000cb 54.6%,#0000e5 57.8%,#0000f6 60.5%,#0000fe 62.5%,#0001fe 62.8%,#000bf1 65.3%,#0115e3 69.0%,#011dd8 73.8%,#0227ca 83.3%,#0231bd 100.0%)"></div>
<div style="height:3px;background:linear-gradient(90deg,#0117e0 0.0%,#0111e8 16.7%,#000bf0 26.2%,#0002fd 33.3%,#0000fa 36.7%,#0000ed 41.3%,#0000df 44.1%,#0000bc 49.5%,#0000b9 50.8%,#0000ba 51.8%,#0000c4 53.6%,#0000e4 57.6%,#0000f6 60.5%,#0000fe 62.5%,#0003fb 63.4%,#010ded 66.2%,#0118df 70.8%,#0122d1 78.6%,#022cc4 90.5%,#0231be 100.0%)"></div>
<div style="height:3px;background:linear-gradient(90deg,#0117e1 0.0%,#0110ea 19.0%,#0008f4 28.6%,#0001fd 33.3%,#0000fa 36.7%,#0000ed 41.3%,#0000da 45.0%,#0000c0 49.0%,#0000ba 50.8%,#0000bf 52.7%,#0000d4 55.5%,#0000e9 58.3%,#0000fa 61.4%,#0000fe 62.5%,#0003fb 63.4%,#010fea 67.1%,#0117e0 70.8%,#011fd5 76.2%,#0228c9 85.7%,#0230be 100.0%)"></div>
<div style="height:3px;background:linear-gradient(90deg,#0116e1 0.0%,#0110e9 16.7%,#000af1 26.2%,#0001fd 33.3%,#0000fa 36.7%,#0000ed 41.3%,#0000e0 44.1%,#0000c1 49.0%,#0000bc 50.5%,#0000bd 51.8%,#0000c4 53.3%,#0000e9 58.2%,#0000fa 61.4%,#0000ff 62.8%,#000af2 65.3%,#0113e5 69.0%,#011cda 73.8%,#0226cc 83.3%,#0230bf 100.0%)"></div>
<div style="height:3px;background:linear-gradient(90deg,#0116e2 0.0%,#010feb 19.0%,#0008f5 28.6%,#0001fe 33.3%,#0000fa 36.7%,#0000ed 41.3%,#0000db 45.0%,#0000c2 49.0%,#0000bd 50.5%,#0000be 51.8%,#0000cb 54.1%,#0000e6 57.8%,#0000f6 60.5%,#0000ff 62.8%,#0009f2 65.3%,#0111e8 68.0%,#011bda 73.8%,#0227ca 85.7%,#022fbf 100.0%)"></div>
<div style="height:3px;background:linear-gradient(90deg,#0116e2 0.0%,#0110ea 16.7%,#000af2 26.2%,#0001fe 33.3%,#0000fa 36.7%,#0000ed 41.3%,#0000da 45.2%,#0000c1 49.5%,#0000bf 51.5%,#0000c6 53.1%,#0000ed 58.8%,#0000fc 61.9%,#0000ff 62.8%,#010ded 66.7%,#0116e1 70.8%,#011ed7 76.2%,#0227cb 85.7%,#022fc0 100.0%)"></div>
<div style="height:3px;background:linear-gradient(90deg,#0115e2 0.0%,#010eec 19.0%,#0009f2 26.2%,#0001fe 33.3%,#0000fa 36.7%,#0000ed 41.3%,#0000d6 45.9%,#0000c4 49.0%,#0000c0 50.8%,#0000c3 52.4%,#0000d4 55.1%,#0000e8 57.9%,#0000fa 61.4%,#0000ff 62.8%,#010dee 66.7%,#0114e4 69.9%,#011dd8 76.2%,#0226cc 85.7%,#022fc1 100.0%)"></div>
<div style="height:3px;background:linear-gradient(90deg,#0115e3 0.0%,#010eec 19.0%,#0007f6 28.6%,#0000ff 33.3%,#0000f8 37.6%,#0000ed 41.3%,#0000dc 45.0%,#0000c5 49.0%,#0000c1 50.8%,#0000c4 52.4%,#0000d7 55.5%,#0000ef 59.1%,#0000ff 62.8%,#010dee 66.7%,#0117e0 71.7%,#0120d5 78.6%,#0229c8 90.5%,#022ec1 100.0%)"></div>
<div style="height:3px;background:linear-gradient(90deg,#0115e3 0.0%,#010eed 19.0%,#0007f6 28.6%,#0000ff 33.3%,#0000f0 40.5%,#0000e1 44.1%,#0000c8 48.7%,#0000c3 50.0%,#0000c3 51.5%,#0000ca 53.3%,#0000ed 58.7%,#0000ff 62.8%,#010eed 67.1%,#0117e1 71.7%,#0121d2 81.0%,#022bc5 95.2%,#022ec2 100.0%)"></div>
<div style="height:3px;background:linear-gradient(90deg,#0114e4 0.0%,#010ded 19.0%,#0009f4 26.2%,#0003fa 31.0%,#0000ff 33.3%,#0000f0 40.5%,#0000e1 44.1%,#0000c9 48.7%,#0000c5 50.0%,#0000c5 51.8%,#0000cf 54.1%,#0000ee 58.8%,#0000fd 62.4%,#0002fd 63.4%,#000bf0 66.2%,#0116e1 71.7%,#011fd6 78.6%,#0228c9 90.5%,#022dc2 100.0%)"></div>
<div style="height:3px;background:linear-gradient(90deg,#0114e4 0.0%,#000cef 21.4%,#0003fb 31.0%,#0000ff 33.3%,#0000f0 40.5%,#0000e1 44.1%,#0000c7 49.5%,#0000c5 51.5%,#0000cc 53.3%,#0000ee 58.8%,#0000fd 62.4%,#0002fd 63.4%,#000cef 66.7%,#0116e2 71.7%,#0121d3 81.0%,#022dc3 100.0%)"></div>
<div style="height:3px;background:linear-gradient(90deg,#0114e5 0.0%,#010dee 19.0%,#0006f7 28.6%,#0000ff 33.3%,#0000f0 40.5%,#0000e2 44.1%,#0000c8 49.5%,#0000c6 51.3%,#0000cc 53.1%,#0000ee 58.8%,#0000fd 62.4%,#0001fd 63.4%,#000af1 66.2%,#0114e4 70.8%,#011ed7 78.6%,#0227cb 90.5%,#022cc3 100.0%)"></div>
<div style="height:3px;background:linear-gradient(90deg,#0113e5 0.0%,#010ded 16.7%,#0008f5 26.2%,#0000fe 33.3%,#0000f5 38.6%,#0000ea 42.2%,#0000d4 46.9%,#0000c8 50.0%,#0000c8 51.8%,#0000d2 54.1%,#0000eb 58.3%,#0000f8 61.0%,#0000fe 62.8%,#0005f9 64.4%,#010cee 67.1%,#0115e3 71.7%,#0120d4 81.0%,#022cc4 100.0%)"></div>
<div style="height:0.5px;background:linear-gradient(90deg,#0113e5 0.0%,#000bf0 21.4%,#0000fe 33.3%,#0000f5 38.6%,#0000ea 42.2%,#0000cb 49.0%,#0000c8 51.3%,#0000d0 53.6%,#0000f0 59.1%,#0000fe 62.8%,#0004f9 64.4%,#0110e9 69.0%,#011bdb 76.2%,#0226cb 90.5%,#022cc4 100.0%)"></div>
</div>
<div id="cb"></div>
<svg width="1402" height="1038" viewBox="0 0 1402 1038">
<rect x="269.3" y="76.9" width="709.8" height="6.7" fill="#000"/>
<rect x="269.4" y="734.3" width="709.7" height="6.9" fill="#000"/>
<rect x="313.9" y="76.9" width="7" height="708.6" fill="#000"/>
<rect x="972.1" y="76.9" width="7" height="708.6" fill="#000"/>
<rect x="293.2" y="141.9" width="21.3" height="7" fill="#000"/>
<rect x="269.3" y="207.4" width="45.2" height="7.1" fill="#000"/>
<rect x="293.2" y="274.1" width="21.3" height="7" fill="#000"/>
<rect x="269.3" y="340.75" width="45.2" height="7.1" fill="#000"/>
<rect x="293.2" y="405.8" width="21.3" height="7" fill="#000"/>
<rect x="269.3" y="471.25" width="45.2" height="7.1" fill="#000"/>
<rect x="293.2" y="538.1" width="21.3" height="7" fill="#000"/>
<rect x="269.3" y="603.5" width="45.2" height="7.1" fill="#000"/>
<rect x="293.2" y="668.8" width="21.3" height="7" fill="#000"/>
<rect x="643" y="741" width="7" height="44.5" fill="#000"/>
<rect x="478" y="741" width="7" height="19.5" fill="#000"/>
<rect x="807.8" y="741" width="7" height="19.5" fill="#000"/>
<rect x="1113.4" y="76.1" width="43.2" height="657.3" fill="none" stroke="#000" stroke-width="7" stroke-linejoin="round"/>
<rect x="1159" y="728.75" width="44.2" height="6.9" fill="#000"/>
<rect x="1159" y="645.45" width="44.2" height="6.9" fill="#000"/>
<rect x="1159" y="562.25" width="44.2" height="6.9" fill="#000"/>
<rect x="1159" y="479.05" width="44.2" height="6.9" fill="#000"/>
<rect x="1159" y="395.85" width="44.2" height="6.9" fill="#000"/>
<rect x="1159" y="312.65" width="44.2" height="6.9" fill="#000"/>
<rect x="1159" y="229.45" width="44.2" height="6.9" fill="#000"/>
<rect x="1159" y="146.25" width="44.2" height="6.9" fill="#000"/>
<text transform="translate(236.6,98.2) scale(1,1.015)" font-size="71" text-anchor="end" >10</text>
<text x="122.63" y="98.75" font-size="96">-</text>
<text transform="translate(236.6,231) scale(1,1.015)" font-size="71" text-anchor="end" >8</text>
<text x="158.73" y="233.95" font-size="96">-</text>
<text transform="translate(236.6,363) scale(1,1.015)" font-size="71" text-anchor="end" >6</text>
<text x="158.73" y="362.15" font-size="96">-</text>
<text transform="translate(236.6,494.8) scale(1,1.015)" font-size="71" text-anchor="end" >4</text>
<text x="158.73" y="497.55" font-size="96">-</text>
<text transform="translate(236.6,626) scale(1,1.015)" font-size="71" text-anchor="end" >2</text>
<text x="158.73" y="629.6" font-size="96">-</text>
<text transform="translate(236.6,757) scale(1,1.015)" font-size="71" text-anchor="end" >0</text>
<text transform="translate(317,873.3) scale(1,1.015)" font-size="71" text-anchor="middle" >745</text>
<text transform="translate(646.45,873.3) scale(1,1.015)" font-size="71" text-anchor="middle" >750</text>
<text transform="translate(975.25,873.3) scale(1,1.015)" font-size="71" text-anchor="middle" >755</text>
<text transform="translate(677.6,972.4) scale(1,1)" font-size="82" text-anchor="middle" >Wavelength (nm)</text>
<text transform="translate(1229.3,759) scale(1,1.015)" font-size="71">10<tspan dx="-1.5" dy="-27.0" font-size="50">-1</tspan></text>
<text transform="translate(1229.3,675.8) scale(1,1.015)" font-size="71">10<tspan dx="-1.5" dy="-27.0" font-size="50">0</tspan></text>
<text transform="translate(1229.3,592.6) scale(1,1.015)" font-size="71">10<tspan dx="-1.5" dy="-27.0" font-size="50">1</tspan></text>
<text transform="translate(1229.3,509.4) scale(1,1.015)" font-size="71">10<tspan dx="-1.5" dy="-27.0" font-size="50">2</tspan></text>
<text transform="translate(1229.3,426.2) scale(1,1.015)" font-size="71">10<tspan dx="-1.5" dy="-27.0" font-size="50">3</tspan></text>
<text transform="translate(1229.3,343) scale(1,1.015)" font-size="71">10<tspan dx="-1.5" dy="-27.0" font-size="50">4</tspan></text>
<text transform="translate(1229.3,259.8) scale(1,1.015)" font-size="71">10<tspan dx="-1.5" dy="-27.0" font-size="50">5</tspan></text>
<text transform="translate(1229.3,176.6) scale(1,1.015)" font-size="71">10<tspan dx="-1.5" dy="-27.0" font-size="50">6</tspan></text>
<text transform="translate(110.8,500.2) rotate(-90)" font-size="81">k<tspan font-size="60" dx="-2.4" dy="-7">*</tspan><tspan font-size="65" dx="9.6" dy="7">10</tspan><tspan dx="1.8" dy="-28.8" font-size="45">-3</tspan></text>
<text transform="translate(1086.2,690) rotate(-90)" font-size="82">Reflectance [%]</text>
</svg>
</body></html>
